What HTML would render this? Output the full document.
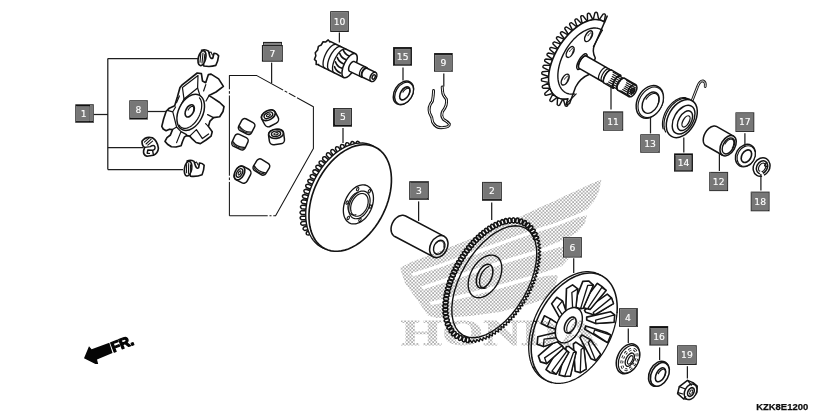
<!DOCTYPE html>
<html lang="en">
<head>
<meta charset="utf-8">
<title>KZK8E1200</title>
<style>
html,body{margin:0;padding:0;background:#fff;}
body{width:840px;height:420px;overflow:hidden;font-family:"Liberation Sans",Arial,sans-serif;}
svg{display:block;}
</style>
</head>
<body>
<svg width="840" height="420" viewBox="0 0 840 420">
<rect width="840" height="420" fill="#fff"/>
<g stroke="#141414" stroke-width="1.4" fill="none" stroke-linecap="round" stroke-linejoin="round">
<g id="clips"><g transform="translate(197.4 49.6) rotate(0) scale(1.0)"><path d="M4.2,0.6 Q8,-0.6 11.2,1.6 L12.4,6.6 Q13.6,9.8 15.4,8.4 L16.6,3.6 Q19.6,3.6 21.2,6.2 Q20.6,11.6 18.4,15.8 Q13,17.6 6.4,16.4 Z" fill="#fff" stroke-width="1.65"/><ellipse cx="4.6" cy="8.6" rx="3.7" ry="7.6" transform="rotate(14 4.6 8.6)" fill="#fff" stroke-width="1.65"/><path d="M3.4,4.2 L2.6,12.6 M5.6,3.4 L4.6,13.4 M7.4,4.8 L6.6,12.4" fill="none" stroke-width="1.10"/><path d="M11.4,3.2 L13.6,2.4 L15.0,5.4" fill="none" stroke-width="1.10"/></g><g transform="translate(140.8 136.6)"><path d="M1.2,4.6 Q4.8,-0.6 11.6,1.2 Q16.8,4.4 17.6,11.6 Q17.2,16.6 12.6,18.6 L6.2,19.6 Q2.2,18.4 2.8,14.2 L3.8,10.8 Q1.2,9.6 1.2,4.6 Z" fill="#fff" stroke-width="1.65"/><path d="M3.6,5.6 L8.2,1.6 M5.2,7.4 L10.4,2.6 M7.0,8.6 L11.8,4.6" fill="none" stroke-width="1.10"/><path d="M4.0,10.8 L9.4,10.0 Q13.2,7.6 14.2,10.4 Q14.6,13.4 11.8,13.6 L7.0,13.4 L6.4,16.6 L8.6,16.8 M11.8,13.6 L12.6,18.4" fill="none" stroke-width="1.43"/></g><g transform="translate(183.0 160.6) rotate(-4) scale(0.98)"><path d="M4.2,0.6 Q8,-0.6 11.2,1.6 L12.4,6.6 Q13.6,9.8 15.4,8.4 L16.6,3.6 Q19.6,3.6 21.2,6.2 Q20.6,11.6 18.4,15.8 Q13,17.6 6.4,16.4 Z" fill="#fff" stroke-width="1.65"/><ellipse cx="4.6" cy="8.6" rx="3.7" ry="7.6" transform="rotate(14 4.6 8.6)" fill="#fff" stroke-width="1.65"/><path d="M3.4,4.2 L2.6,12.6 M5.6,3.4 L4.6,13.4 M7.4,4.8 L6.6,12.4" fill="none" stroke-width="1.10"/><path d="M11.4,3.2 L13.6,2.4 L15.0,5.4" fill="none" stroke-width="1.10"/></g></g>
<g id="star"><path d="M197.2,73.0 L201.4,73.6 L202.5,81.1 L205.7,82.7 L208.4,74.6 L211.1,74.1 L218.6,78.9 L223.4,86.4 L216.0,92.0 L209.0,95.6 L212.0,97.4 L219.7,102.5 L224.0,106.6 L223.0,111.5 L219.7,116.8 L213.5,117.6 L210,121.1 L208.4,126.4 L212.2,131.8 L211.1,136.1 L206.0,140.0 L200.4,143.6 L196.1,142.5 L192.5,139.2 L189.7,136.1 L186.5,135.6 L184.3,137.2 L182.5,141.5 L181.1,145.7 L176.0,147.0 L171.4,146.8 L167.5,144.2 L165,141.4 L167.0,137.6 L170.4,135 L172.5,129.6 L169.5,129.2 L166.1,130.7 L163.2,129.0 L161.8,126.4 L163.6,119.0 L166.1,111.4 L169.3,108.2 L174.7,105.7 L177.5,96.5 L180,87.5 L182.2,84.8Z" fill="#fff" stroke-width="1.65"/><path d="M182.4,87.4 L198.0,75.4 L197.6,88.0 L184.0,99.0 Z" fill="none" stroke-width="1.21"/><path d="M197.6,88.0 L200.6,97.6 M184.0,99.0 L180.6,106.0 M176.6,102.6 L179.4,96.0" fill="none" stroke-width="1.21"/><path d="M168.2,110.6 L172.8,111.8 L176.6,127.0 L172.5,129.6 M172.8,111.8 L175.6,107.0 M176.6,127.0 L181.0,131.6 L176.6,142.6 M181.0,131.6 L186.6,134.6" fill="none" stroke-width="1.21"/><path d="M196.4,129.6 L202.4,138.6 L208.6,134.0 M196.4,129.6 L189.7,136.1 M205.6,123.6 L208.4,126.4" fill="none" stroke-width="1.21"/><path d="M207.6,114.6 Q211.6,116.6 213.5,117.6 M208.6,96.4 L206.0,101.0 M205.8,84.6 L203.6,91.0" fill="none" stroke-width="1.21"/><ellipse cx="190.70" cy="112.40" rx="19.20" ry="12.20" transform="rotate(-64.00 190.70 112.40)" fill="#fff" stroke-width="1.49"/><path d="M199.47,97.80 L200.33,99.07 L200.99,100.57 L201.44,102.27 L201.68,104.15 L201.70,106.17 L201.51,108.29 L201.09,110.48 L200.47,112.69 L199.66,114.89 L198.66,117.03 L197.50,119.08 L196.19,121.00 L194.77,122.76 L193.25,124.32 L191.67,125.66 L190.05,126.75 L188.42,127.57 L186.81,128.10 L185.26,128.35 L183.78,128.29 L182.41,127.94 L181.16,127.30 L180.07,126.39 L179.15,125.21" fill="none" stroke-width="1.21"/><ellipse cx="189.70" cy="110.90" rx="6.60" ry="3.90" transform="rotate(-62.00 189.70 110.90)" fill="#fff" stroke-width="1.65"/><path d="M188.10,110.08 L188.41,109.53 L188.75,109.01 L189.11,108.52 L189.49,108.07 L189.88,107.66 L190.27,107.30 L190.67,106.99 L191.06,106.75 L191.45,106.56 L191.82,106.44 L192.17,106.38 L192.50,106.39 L192.80,106.47 L193.06,106.61 L193.30,106.82 L193.49,107.08 L193.64,107.41 L193.74,107.78 L193.80,108.20 L193.82,108.67 L193.79,109.17 L193.71,109.70 L193.59,110.25 L193.42,110.82" fill="none" stroke-width="1.10"/></g>
<g id="rollers"><path d="M229.4,215.8 L229.4,75.4 L256.4,75.4 L313.4,106.8 L313.4,148.6 L275.6,215.8 L229.4,215.8" fill="none" stroke-width="1.04" stroke-linecap="butt"/><rect x="228.5" y="88.7" width="1.8" height="3" fill="#fff" stroke="none" transform="rotate(90 229.4 90.2)"/><rect x="228.5" y="93.1" width="1.8" height="3" fill="#fff" stroke="none" transform="rotate(90 229.4 94.6)"/><rect x="228.5" y="175.1" width="1.8" height="3" fill="#fff" stroke="none" transform="rotate(90 229.4 176.6)"/><rect x="228.5" y="179.5" width="1.8" height="3" fill="#fff" stroke="none" transform="rotate(90 229.4 181.0)"/><rect x="283.1" y="88.8" width="1.8" height="3" fill="#fff" stroke="none" transform="rotate(28.4 284.0 90.3)"/><rect x="287.3" y="91.1" width="1.8" height="3" fill="#fff" stroke="none" transform="rotate(28.4 288.2 92.6)"/><rect x="295.5" y="95.5" width="1.8" height="3" fill="#fff" stroke="none" transform="rotate(28.4 296.4 97.0)"/><rect x="267.70000000000005" y="214.3" width="1.8" height="3" fill="#fff" stroke="none" transform="rotate(0 268.6 215.8)"/><rect x="271.5" y="214.3" width="1.8" height="3" fill="#fff" stroke="none" transform="rotate(0 272.4 215.8)"/><g transform="translate(246.6 126.6) rotate(28) scale(1.0)"><rect x="-7.2" y="-6.6" width="14.4" height="13.2" rx="3.4" ry="3.4" fill="#fff" stroke-width="1.49"/><path d="M-6.6,2.8 Q0,6.4 6.6,2.8" fill="none" stroke-width="1.26"/><path d="M-6.0,4.2 Q0,7.4 6.0,4.2" fill="none" stroke-width="0.99"/></g><g transform="translate(240.0 142.0) rotate(25) scale(1.0)"><rect x="-7.2" y="-6.6" width="14.4" height="13.2" rx="3.4" ry="3.4" fill="#fff" stroke-width="1.49"/><path d="M-6.6,2.8 Q0,6.4 6.6,2.8" fill="none" stroke-width="1.26"/><path d="M-6.0,4.2 Q0,7.4 6.0,4.2" fill="none" stroke-width="0.99"/></g><g transform="translate(269.6 117.6) rotate(-28) scale(1.0)"><rect x="-7.6" y="-6.4" width="15.2" height="14.4" rx="4.2" ry="4.2" fill="#fff" stroke-width="1.49"/><ellipse cx="0" cy="-2.6" rx="7.4" ry="4.6" fill="#fff" stroke-width="1.65"/><ellipse cx="0" cy="-2.6" rx="4.6" ry="2.7" fill="#fff" stroke-width="1.43"/><ellipse cx="0" cy="-2.6" rx="2.2" ry="1.1" fill="#fff" stroke-width="1.10"/></g><g transform="translate(276.4 136.4) rotate(-8) scale(1.0)"><rect x="-7.6" y="-6.4" width="15.2" height="14.4" rx="4.2" ry="4.2" fill="#fff" stroke-width="1.49"/><ellipse cx="0" cy="-2.6" rx="7.4" ry="4.6" fill="#fff" stroke-width="1.65"/><ellipse cx="0" cy="-2.6" rx="4.6" ry="2.7" fill="#fff" stroke-width="1.43"/><ellipse cx="0" cy="-2.6" rx="2.2" ry="1.1" fill="#fff" stroke-width="1.10"/></g><g transform="translate(241.8 174.2) rotate(-62) scale(1.0)"><rect x="-7.6" y="-6.4" width="15.2" height="14.4" rx="4.2" ry="4.2" fill="#fff" stroke-width="1.49"/><ellipse cx="0" cy="-2.6" rx="7.4" ry="4.6" fill="#fff" stroke-width="1.65"/><ellipse cx="0" cy="-2.6" rx="4.6" ry="2.7" fill="#fff" stroke-width="1.43"/><ellipse cx="0" cy="-2.6" rx="2.2" ry="1.1" fill="#fff" stroke-width="1.10"/></g><g transform="translate(261.4 167.0) rotate(32) scale(1.0)"><rect x="-7.2" y="-6.6" width="14.4" height="13.2" rx="3.4" ry="3.4" fill="#fff" stroke-width="1.49"/><path d="M-6.6,2.8 Q0,6.4 6.6,2.8" fill="none" stroke-width="1.26"/><path d="M-6.0,4.2 Q0,7.4 6.0,4.2" fill="none" stroke-width="0.99"/></g></g>
<g id="p10"><path d="M330.67,41.68 L330.11,41.49 L329.50,41.43 L328.83,41.50 L328.12,41.71 L327.38,42.04 L326.61,42.50 L325.82,43.09 L325.01,43.78 L324.21,44.59 L323.42,45.49 L322.64,46.48 L321.88,47.54 L321.16,48.68 L320.48,49.86 L319.85,51.09 L319.27,52.34 L318.76,53.61 L318.31,54.88 L317.93,56.13 L317.63,57.35 L317.41,58.53 L317.27,59.66 L317.22,60.72 L317.24,61.70 L317.36,62.59 L317.55,63.38 L317.82,64.07 L318.18,64.64 L318.60,65.09 L319.10,65.41 L343.81,77.46 L355.39,53.74 Z" fill="#fff" stroke-width="1.54"/><ellipse cx="349.60" cy="65.60" rx="13.20" ry="5.60" transform="rotate(-64.00 349.60 65.60)" fill="#fff" stroke-width="1.54" /><path d="M318.72,64.58 L316.14,64.54 L316.26,61.12 L314.46,59.38 L315.87,55.84 L315.27,52.81 L317.64,50.01 L318.39,46.42 L321.14,45.03 L323.06,41.74 L325.54,42.09 L328.17,39.89 L329.79,41.89" fill="#fff" stroke-width="1.54"/><path d="M334.38,72.86 L333.77,72.44 L333.27,71.82 L332.89,71.02 L332.63,70.04 L332.51,68.92 L332.51,67.65 L332.65,66.27 L332.91,64.80 L333.30,63.27 L333.80,61.70 L334.42,60.11 L335.13,58.54 L335.93,57.01 L336.80,55.56 L337.73,54.19 L338.70,52.94 L339.69,51.83 L340.70,50.87 L341.69,50.09 L342.66,49.50 L343.58,49.10 L344.45,48.90 L345.24,48.91 L345.95,49.13" fill="none" stroke-width="1.32"/><path d="M329.43,70.45 L328.83,70.03 L328.33,69.41 L327.95,68.61 L327.69,67.63 L327.56,66.50 L327.57,65.24 L327.70,63.86 L327.97,62.39 L328.35,60.86 L328.86,59.29 L329.47,57.70 L330.19,56.13 L330.98,54.60 L331.86,53.14 L332.78,51.78 L333.75,50.53 L334.75,49.42 L335.75,48.46 L336.75,47.68 L337.71,47.08 L338.64,46.69 L339.51,46.49 L340.30,46.50 L341.01,46.72" fill="none" stroke-width="1.32"/><path d="M324.94,68.26 L324.33,67.84 L323.83,67.22 L323.45,66.42 L323.20,65.44 L323.07,64.31 L323.07,63.05 L323.21,61.67 L323.47,60.20 L323.86,58.67 L324.37,57.09 L324.98,55.51 L325.69,53.94 L326.49,52.41 L327.36,50.95 L328.29,49.59 L329.26,48.34 L330.25,47.22 L331.26,46.27 L332.25,45.49 L333.22,44.89 L334.15,44.49 L335.01,44.30 L335.81,44.31 L336.51,44.53" fill="none" stroke-width="1.32"/><path d="M343.18,49.78 Q344.52,53.89 349.05,55.99 M339.79,53.42 Q341.13,57.52 345.67,59.62 M337.31,57.50 Q338.65,61.60 343.19,63.70 M335.51,61.90 Q336.85,66.01 341.38,68.11 M334.53,66.72 Q335.87,70.82 340.41,72.92" fill="none" stroke-width="1.65"/><path d="M354.38,61.61 L354.12,61.51 L353.83,61.47 L353.52,61.48 L353.19,61.55 L352.85,61.67 L352.51,61.84 L352.15,62.06 L351.80,62.34 L351.45,62.65 L351.10,63.01 L350.76,63.41 L350.44,63.84 L350.14,64.30 L349.85,64.78 L349.59,65.28 L349.36,65.79 L349.15,66.31 L348.98,66.84 L348.84,67.36 L348.73,67.86 L348.66,68.36 L348.63,68.83 L348.63,69.28 L348.68,69.69 L348.75,70.07 L348.87,70.42 L349.02,70.71 L349.20,70.96 L349.41,71.17 L349.65,71.32 L362.23,77.45 L366.97,67.75 Z" fill="#fff" stroke-width="1.49"/><path d="M362.23,77.45 L361.94,77.26 L361.69,76.98 L361.48,76.63 L361.34,76.21 L361.24,75.73 L361.21,75.20 L361.23,74.62 L361.31,74.00 L361.45,73.36 L361.64,72.71 L361.89,72.06 L362.17,71.42 L362.50,70.79 L362.87,70.20 L363.26,69.65 L363.68,69.15 L364.12,68.71 L364.56,68.33 L365.00,68.03 L365.44,67.80 L365.86,67.66 L366.26,67.61 L366.63,67.63 L366.97,67.75" fill="none" stroke-width="1.21"/><path d="M360.43,76.55 L360.14,76.36 L359.89,76.08 L359.68,75.73 L359.54,75.31 L359.44,74.83 L359.41,74.30 L359.43,73.72 L359.51,73.10 L359.65,72.46 L359.84,71.81 L360.09,71.16 L360.37,70.52 L360.70,69.89 L361.07,69.30 L361.46,68.75 L361.88,68.25 L362.32,67.81 L362.76,67.43 L363.20,67.13 L363.64,66.90 L364.06,66.76 L364.46,66.71 L364.83,66.73 L365.17,66.85" fill="none" stroke-width="1.21"/><path d="M367.50,68.46 L367.21,68.35 L366.89,68.29 L366.56,68.27 L366.22,68.31 L365.86,68.41 L365.50,68.55 L365.14,68.74 L364.77,68.97 L364.42,69.25 L364.07,69.57 L363.74,69.93 L363.42,70.32 L363.13,70.73 L362.86,71.18 L362.61,71.64 L362.40,72.12 L362.22,72.60 L362.07,73.09 L361.96,73.58 L361.88,74.06 L361.84,74.53 L361.84,74.98 L361.88,75.41 L361.95,75.82 L362.06,76.19 L362.21,76.53 L362.39,76.82 L362.61,77.08 L362.85,77.29 L363.12,77.45 L371.21,81.39 L375.59,72.41 Z" fill="#fff" stroke-width="1.54"/><ellipse cx="373.40" cy="76.90" rx="5.00" ry="3.00" transform="rotate(-64.00 373.40 76.90)" fill="#fff" stroke-width="1.54" /><ellipse cx="373.70" cy="77.00" rx="2.30" ry="1.40" transform="rotate(-64.00 373.70 77.00)" fill="#fff" stroke-width="1.43"/></g>
<g id="p15_9"><ellipse cx="403.40" cy="92.90" rx="12.80" ry="9.00" transform="rotate(-58.00 403.40 92.90)" fill="#fff" stroke-width="1.43"/><ellipse cx="404.10" cy="93.30" rx="12.00" ry="8.30" transform="rotate(-58.00 404.10 93.30)" fill="#fff" stroke-width="1.32"/><ellipse cx="404.80" cy="93.40" rx="7.20" ry="4.10" transform="rotate(-58.00 404.80 93.40)" fill="#fff" stroke-width="1.59"/><path d="M402.89,92.10 L403.31,91.47 L403.77,90.87 L404.26,90.31 L404.77,89.81 L405.29,89.37 L405.82,89.00 L406.34,88.70 L406.85,88.48 L407.35,88.33 L407.81,88.28 L408.24,88.30 L408.64,88.41 L408.98,88.61 L409.28,88.88 L409.51,89.23 L409.69,89.64 L409.81,90.12 L409.86,90.66 L409.84,91.25 L409.77,91.87 L409.62,92.52 L409.42,93.19 L409.16,93.88 L408.84,94.56" fill="none" stroke-width="1.10"/><path d="M433.6,90.6 Q433.4,96.0 432.4,101.2 Q427.8,106.6 429.6,113.0 Q432.4,117.6 432.6,122.0 Q436.0,128.6 443.0,127.6 Q449.6,127.2 449.4,124.2 Q447.6,121.6 443.4,119.4 Q440.6,115.6 442.6,111.4 Q447.6,105.0 446.4,99.2 Q442.6,95.0 442.6,91.6 L442.2,87.0" fill="none" stroke="#141414" stroke-width="2.97" stroke-linejoin="round"/><path d="M433.6,90.6 Q433.4,96.0 432.4,101.2 Q427.8,106.6 429.6,113.0 Q432.4,117.6 432.6,122.0 Q436.0,128.6 443.0,127.6 Q449.6,127.2 449.4,124.2 Q447.6,121.6 443.4,119.4 Q440.6,115.6 442.6,111.4 Q447.6,105.0 446.4,99.2 Q442.6,95.0 442.6,91.6 L442.2,87.0" fill="none" stroke="#fff" stroke-width="0.94" stroke-linejoin="round"/></g>
<g id="p5"><path d="M309.35,234.67 L308.27,235.11 Q304.92,234.55 306.90,231.79 L307.98,231.34 Q310.49,232.25 309.35,234.67Z M307.47,229.82 L304.91,230.50 Q301.66,229.51 303.97,227.03 L306.53,226.34 Q308.91,227.56 307.47,229.82Z M306.20,224.72 L302.35,225.31 Q299.23,223.96 301.81,221.75 L305.66,221.16 Q307.89,222.64 306.20,224.72Z M305.50,219.56 L301.61,219.77 Q298.64,218.13 301.42,216.18 L305.31,215.97 Q307.38,217.66 305.50,219.56Z M305.30,214.38 L301.40,214.26 Q298.58,212.37 301.51,210.66 L305.41,210.79 Q307.33,212.65 305.30,214.38Z M305.53,209.16 L301.65,208.73 Q298.98,206.63 302.04,205.15 L305.92,205.58 Q307.69,207.58 305.53,209.16Z M306.15,204.00 L302.31,203.30 Q299.80,201.02 302.96,199.76 L306.79,200.46 Q308.42,202.58 306.15,204.00Z M307.13,198.91 L303.35,197.97 Q300.99,195.52 304.22,194.47 L308.01,195.42 Q309.49,197.65 307.13,198.91Z M308.45,193.88 L304.73,192.69 Q302.53,190.10 305.82,189.26 L309.54,190.45 Q310.88,192.77 308.45,193.88Z M310.07,188.94 L306.44,187.53 Q304.40,184.81 307.74,184.17 L311.37,185.58 Q312.57,187.98 310.07,188.94Z M311.98,184.13 L308.44,182.51 Q306.56,179.68 309.93,179.24 L313.48,180.86 Q314.53,183.32 311.98,184.13Z M314.18,179.44 L310.73,177.61 Q309.03,174.67 312.42,174.43 L315.87,176.26 Q316.77,178.77 314.18,179.44Z M316.68,174.83 L313.34,172.80 Q311.82,169.77 315.22,169.73 L318.55,171.76 Q319.30,174.32 316.68,174.83Z M319.42,170.41 L316.22,168.19 Q314.88,165.06 318.27,165.23 L321.48,167.46 Q322.07,170.06 319.42,170.41Z M322.43,166.16 L319.38,163.74 Q318.24,160.54 321.61,160.92 L324.67,163.34 Q325.10,165.98 322.43,166.16Z M325.69,162.13 L322.80,159.52 Q321.88,156.25 325.22,156.85 L328.11,159.47 Q328.37,162.13 325.69,162.13Z M329.22,158.32 L326.52,155.50 Q325.83,152.18 329.12,153.01 L331.82,155.83 Q331.89,158.51 329.22,158.32Z M333.00,154.78 L330.84,152.15 Q330.41,148.78 333.62,149.87 L335.78,152.50 Q335.65,155.17 333.00,154.78Z M337.10,151.51 L335.51,149.19 Q335.36,145.80 338.48,147.15 L340.07,149.47 Q339.70,152.12 337.10,151.51Z M341.39,148.65 L340.32,146.72 Q340.50,143.33 343.47,144.97 L344.54,146.90 Q343.92,149.51 341.39,148.65Z M346.03,146.17 L345.43,144.74 Q345.99,141.39 348.76,143.35 L349.36,144.79 Q348.45,147.31 346.03,146.17Z M350.88,144.26 L350.65,143.41 Q351.63,140.16 354.12,142.46 L354.35,143.31 Q353.14,145.69 350.88,144.26Z M355.97,142.99 L355.95,142.83 Q357.42,139.76 359.53,142.42 L359.55,142.58 Q357.99,144.75 355.97,142.99Z" stroke-width="1.49" fill="#fff"/><path d="M329.44,249.82 L326.30,249.17 L323.32,248.14 L320.50,246.72 L317.89,244.94 L315.49,242.81 L313.32,240.34 L311.40,237.55 L309.74,234.45 L308.35,231.09 L307.25,227.46 L306.44,223.62 L305.93,219.57 L305.73,215.36 L305.82,211.01 L306.22,206.55 L306.92,202.02 L307.91,197.45 L309.19,192.87 L310.75,188.32 L312.57,183.83 L314.65,179.43 L316.97,175.16 L319.51,171.05 L322.25,167.12 L325.17,163.40 L328.25,159.93 L331.48,156.72 L334.82,153.81 L338.25,151.21 L341.74,148.94 L345.28,147.02 L348.83,145.46 L352.36,144.27 L355.86,143.46 L359.30,143.05 L362.65,143.02 L365.89,143.39 L368.99,144.14 L371.93,145.28 L374.69,146.79" fill="#fff" stroke-width="1.32"/><path d="M375.32,147.17 L378.08,148.77 L380.62,150.75 L382.94,153.09 L385.00,155.77 L386.80,158.77 L388.32,162.07 L389.55,165.64 L390.48,169.46 L391.10,173.49 L391.41,177.72 L391.41,182.09 L391.10,186.59 L390.47,191.17 L389.54,195.81 L388.31,200.47 L386.79,205.10 L384.99,209.68 L382.92,214.17 L380.61,218.54 L378.06,222.75 L375.30,226.78 L372.36,230.58 L369.24,234.14 L365.98,237.42 L362.59,240.40 L359.12,243.06 L355.57,245.38 L351.99,247.33 L348.39,248.91 L344.80,250.11 L341.26,250.90 L337.78,251.30 L334.40,251.28 L331.14,250.87 L328.03,250.05 L325.08,248.83 L322.32,247.23 L319.78,245.25 L317.46,242.91 L315.40,240.23 L313.60,237.23 L312.08,233.93 L310.85,230.36 L309.92,226.54 L309.30,222.51 L308.99,218.28 L308.99,213.91 L309.30,209.41 L309.93,204.83 L310.86,200.19 L312.09,195.53 L313.61,190.90 L315.41,186.32 L317.48,181.83 L319.79,177.46 L322.34,173.25 L325.10,169.22 L328.04,165.42 L331.16,161.86 L334.42,158.58 L337.81,155.60 L341.28,152.94 L344.83,150.62 L348.41,148.67 L352.01,147.09 L355.60,145.89 L359.14,145.10 L362.62,144.70 L366.00,144.72 L369.26,145.13 L372.37,145.95 L375.32,147.17Z" fill="#fff" stroke-width="1.65"/><path d="M367.01,185.68 L368.05,186.25 L369.02,186.96 L369.91,187.79 L370.71,188.76 L371.42,189.84 L372.03,191.03 L372.54,192.33 L372.94,193.72 L373.22,195.18 L373.40,196.72 L373.46,198.32 L373.40,199.96 L373.24,201.64 L372.95,203.34 L372.56,205.05 L372.06,206.75 L371.46,208.43 L370.76,210.08 L369.96,211.69 L369.07,213.25 L368.11,214.73 L367.07,216.14 L365.96,217.46 L364.80,218.68 L363.58,219.79 L362.33,220.78 L361.05,221.65 L359.75,222.39 L358.44,222.99 L357.12,223.45 L355.82,223.76 L354.54,223.93 L353.28,223.95 L352.07,223.82 L350.90,223.54 L349.79,223.12 L348.75,222.55 L347.78,221.84 L346.89,221.01 L346.09,220.04 L345.38,218.96 L344.77,217.77 L344.26,216.47 L343.86,215.08 L343.58,213.62 L343.40,212.08 L343.34,210.48 L343.40,208.84 L343.56,207.16 L343.85,205.46 L344.24,203.75 L344.74,202.05 L345.34,200.37 L346.04,198.72 L346.84,197.11 L347.73,195.55 L348.69,194.07 L349.73,192.66 L350.84,191.34 L352.00,190.12 L353.22,189.01 L354.47,188.02 L355.75,187.15 L357.05,186.41 L358.36,185.81 L359.68,185.35 L360.98,185.04 L362.26,184.87 L363.52,184.85 L364.73,184.98 L365.90,185.26 L367.01,185.68Z" fill="#fff" stroke-width="1.32"/><path d="M365.52,191.61 L366.26,192.01 L366.95,192.51 L367.58,193.10 L368.15,193.78 L368.65,194.55 L369.09,195.40 L369.44,196.32 L369.73,197.30 L369.93,198.34 L370.05,199.43 L370.10,200.56 L370.06,201.73 L369.94,202.92 L369.74,204.12 L369.46,205.33 L369.11,206.53 L368.68,207.73 L368.18,208.90 L367.62,210.04 L366.99,211.14 L366.30,212.19 L365.57,213.19 L364.78,214.13 L363.96,214.99 L363.10,215.78 L362.21,216.48 L361.30,217.10 L360.38,217.62 L359.45,218.05 L358.52,218.37 L357.60,218.59 L356.69,218.71 L355.80,218.73 L354.94,218.63 L354.11,218.44 L353.32,218.14 L352.58,217.73 L351.89,217.23 L351.26,216.64 L350.70,215.96 L350.19,215.19 L349.76,214.34 L349.40,213.43 L349.12,212.44 L348.92,211.40 L348.79,210.31 L348.75,209.18 L348.79,208.01 L348.91,206.83 L349.11,205.62 L349.39,204.41 L349.74,203.21 L350.17,202.01 L350.67,200.84 L351.23,199.70 L351.86,198.60 L352.54,197.55 L353.28,196.55 L354.07,195.61 L354.89,194.75 L355.75,193.96 L356.64,193.26 L357.55,192.64 L358.47,192.12 L359.40,191.70 L360.33,191.37 L361.25,191.15 L362.16,191.03 L363.05,191.02 L363.91,191.11 L364.74,191.31 L365.52,191.61Z" fill="none" stroke-width="1.21"/><path d="M364.44,193.97 L365.05,194.30 L365.61,194.71 L366.13,195.20 L366.60,195.76 L367.01,196.39 L367.36,197.08 L367.66,197.84 L367.89,198.65 L368.06,199.50 L368.16,200.40 L368.20,201.33 L368.16,202.29 L368.07,203.26 L367.90,204.25 L367.67,205.25 L367.38,206.24 L367.03,207.22 L366.62,208.18 L366.16,209.12 L365.64,210.02 L365.08,210.89 L364.47,211.71 L363.83,212.48 L363.15,213.19 L362.44,213.84 L361.71,214.41 L360.97,214.92 L360.21,215.35 L359.44,215.70 L358.68,215.97 L357.92,216.15 L357.17,216.25 L356.44,216.26 L355.74,216.18 L355.06,216.02 L354.41,215.77 L353.80,215.44 L353.24,215.03 L352.72,214.54 L352.25,213.98 L351.84,213.35 L351.48,212.66 L351.19,211.90 L350.96,211.09 L350.79,210.24 L350.69,209.34 L350.65,208.41 L350.68,207.45 L350.78,206.48 L350.95,205.49 L351.17,204.49 L351.46,203.50 L351.82,202.52 L352.23,201.56 L352.69,200.62 L353.21,199.72 L353.77,198.85 L354.38,198.03 L355.02,197.26 L355.70,196.55 L356.40,195.91 L357.13,195.33 L357.88,194.82 L358.64,194.39 L359.40,194.04 L360.17,193.77 L360.93,193.59 L361.67,193.49 L362.40,193.48 L363.11,193.56 L363.79,193.72 L364.44,193.97Z" fill="none" stroke-width="1.21"/><path d="M355.95,214.71 L355.57,214.81 L355.19,214.90 L354.82,214.95 L354.44,214.99 L354.08,215.01 L353.71,215.00 L353.36,214.98 L353.01,214.93 L352.66,214.86 L352.33,214.76 L352.00,214.65 L351.68,214.52 L351.37,214.36 L351.07,214.19 L350.78,213.99 L350.51,213.78 L350.24,213.54 L349.99,213.29 L349.75,213.02 L349.52,212.73 L349.31,212.42 L349.11,212.10 L348.92,211.76 L348.75,211.40 L348.60,211.03 L348.46,210.65 L348.33,210.25 L348.23,209.84 L348.13,209.42 L348.06,208.98 L348.00,208.54 L347.96,208.09 L347.93,207.63 L347.92,207.16 L347.93,206.68 L347.95,206.20 L347.99,205.71 L348.05,205.22 L348.13,204.73 L348.22,204.23 L348.32,203.74 L348.44,203.24 L348.58,202.74 L348.74,202.25 L348.90,201.76 L349.09,201.27 L349.28,200.78 L349.50,200.30 L349.72,199.83 L349.96,199.37 L350.21,198.91 L350.48,198.46 L350.75,198.02 L351.04,197.60 L351.34,197.18 L351.65,196.78 L351.96,196.38 L352.29,196.01 L352.63,195.64 L352.97,195.30 L353.32,194.97 L353.67,194.65 L354.04,194.35 L354.40,194.07 L354.78,193.81 L355.15,193.57 L355.53,193.34 L355.91,193.14 L356.29,192.95 L356.67,192.79 L357.06,192.64 L357.44,192.52" fill="none" stroke-width="1.10"/><ellipse cx="369.33" cy="191.22" rx="1.8" ry="1.0" transform="rotate(-65 369.33 191.22)" stroke-width="1.10"/><ellipse cx="370.48" cy="206.59" rx="1.8" ry="1.0" transform="rotate(-65 370.48 206.59)" stroke-width="1.10"/><ellipse cx="359.96" cy="219.96" rx="1.8" ry="1.0" transform="rotate(-65 359.96 219.96)" stroke-width="1.10"/><ellipse cx="348.29" cy="217.95" rx="1.8" ry="1.0" transform="rotate(-65 348.29 217.95)" stroke-width="1.10"/><ellipse cx="347.14" cy="202.58" rx="1.8" ry="1.0" transform="rotate(-65 347.14 202.58)" stroke-width="1.10"/><ellipse cx="357.66" cy="189.22" rx="1.8" ry="1.0" transform="rotate(-65 357.66 189.22)" stroke-width="1.10"/></g>
<g id="p3"><path d="M405.64,216.00 L404.84,215.65 L403.98,215.41 L403.08,215.30 L402.15,215.30 L401.20,215.42 L400.24,215.66 L399.28,216.02 L398.33,216.49 L397.40,217.06 L396.50,217.74 L395.64,218.51 L394.84,219.37 L394.09,220.30 L393.41,221.30 L392.80,222.35 L392.28,223.44 L391.84,224.57 L391.49,225.71 L391.24,226.86 L391.09,228.00 L391.04,229.13 L391.09,230.22 L391.24,231.27 L391.49,232.26 L391.83,233.19 L392.27,234.05 L392.79,234.81 L393.40,235.49 L394.08,236.06 L394.82,236.53 L433.39,256.86 L444.21,236.34 Z" fill="#fff" stroke-width="1.54"/><ellipse cx="438.80" cy="246.60" rx="11.60" ry="8.40" transform="rotate(-62.20 438.80 246.60)" fill="#fff" stroke-width="1.54" /><ellipse cx="439.20" cy="247.20" rx="7.40" ry="5.20" transform="rotate(-62.20 439.20 247.20)" fill="#fff" stroke-width="1.43"/><path d="M436.30,243.27 L436.74,242.81 L437.20,242.39 L437.69,242.02 L438.18,241.70 L438.68,241.44 L439.19,241.24 L439.69,241.10 L440.18,241.03 L440.67,241.01 L441.13,241.07 L441.57,241.18 L441.98,241.36 L442.36,241.60 L442.70,241.90 L443.01,242.25 L443.27,242.65 L443.48,243.10 L443.65,243.59 L443.77,244.12 L443.84,244.69 L443.86,245.27 L443.83,245.88 L443.74,246.50 L443.61,247.13" fill="none" stroke-width="0.99"/></g>
<g id="p2"><path d="M469.26,338.33 L468.95,341.54 Q467.29,343.71 466.06,341.27 L466.37,338.06 Q467.97,336.61 469.26,338.33Z M465.74,337.95 L464.94,341.07 Q462.95,342.96 462.13,340.35 L462.94,337.23 Q464.74,336.04 465.74,337.95Z M462.30,337.00 L460.96,339.94 Q458.68,341.45 458.32,338.73 L459.66,335.80 Q461.64,334.95 462.30,337.00Z M459.04,335.45 L457.19,338.09 Q454.67,339.16 454.82,336.43 L456.67,333.78 Q458.77,333.31 459.04,335.45Z M456.16,333.35 L453.87,335.63 Q451.21,336.24 451.83,333.57 L454.11,331.30 Q456.26,331.20 456.16,333.35Z M453.67,330.77 L451.05,332.64 Q448.32,332.82 449.36,330.29 L451.98,328.41 Q454.12,328.66 453.67,330.77Z M451.63,327.82 L448.77,329.31 Q446.04,329.09 447.43,326.73 L450.29,325.25 Q452.38,325.80 451.63,327.82Z M450.05,324.68 L447.03,325.81 Q444.35,325.27 446.01,323.10 L449.03,321.97 Q451.03,322.77 450.05,324.68Z M448.85,321.37 L445.73,322.18 Q443.12,321.36 445.00,319.37 L448.12,318.56 Q450.03,319.56 448.85,321.37Z M447.99,317.95 L444.81,318.48 Q442.28,317.43 444.33,315.62 L447.51,315.09 Q449.33,316.26 447.99,317.95Z M447.44,314.49 L444.23,314.78 Q441.79,313.54 443.97,311.89 L447.18,311.60 Q448.90,312.91 447.44,314.49Z M447.16,311.04 L443.93,311.11 Q441.58,309.71 443.87,308.21 L447.09,308.14 Q448.72,309.55 447.16,311.04Z M447.10,307.54 L443.87,307.42 Q441.61,305.88 443.98,304.52 L447.21,304.64 Q448.75,306.15 447.10,307.54Z M447.25,304.02 L444.04,303.73 Q441.86,302.07 444.30,300.84 L447.51,301.14 Q448.97,302.73 447.25,304.02Z M447.59,300.52 L444.39,300.06 Q442.30,298.30 444.80,297.19 L447.99,297.64 Q449.37,299.30 447.59,300.52Z M448.07,297.14 L444.90,296.56 Q442.89,294.71 445.43,293.70 L448.61,294.29 Q449.91,296.01 448.07,297.14Z M448.73,293.72 L445.58,293.00 Q443.64,291.06 446.23,290.17 L449.37,290.89 Q450.60,292.66 448.73,293.72Z M449.51,290.35 L446.39,289.51 Q444.53,287.51 447.15,286.71 L450.26,287.55 Q451.42,289.37 449.51,290.35Z M450.43,286.96 L447.35,286.01 Q445.57,283.94 448.21,283.24 L451.29,284.19 Q452.39,286.05 450.43,286.96Z M451.47,283.66 L448.42,282.60 Q446.71,280.47 449.37,279.86 L452.42,280.92 Q453.45,282.82 451.47,283.66Z M452.63,280.36 L449.62,279.20 Q447.98,277.01 450.66,276.49 L453.67,277.65 Q454.64,279.58 452.63,280.36Z M453.87,277.17 L450.90,275.91 Q449.32,273.67 452.02,273.24 L455.00,274.50 Q455.90,276.45 453.87,277.17Z M455.27,273.88 L452.34,272.53 Q450.84,270.24 453.55,269.89 L456.48,271.24 Q457.32,273.23 455.27,273.88Z M456.73,270.72 L453.85,269.28 Q452.42,266.95 455.14,266.69 L458.03,268.13 Q458.81,270.14 456.73,270.72Z M458.24,267.71 L455.40,266.19 Q454.04,263.81 456.77,263.63 L459.61,265.15 Q460.33,267.18 458.24,267.71Z M459.90,264.62 L457.11,263.02 Q455.82,260.60 458.55,260.50 L461.35,262.11 Q462.01,264.16 459.90,264.62Z M461.66,261.59 L458.91,259.90 Q457.70,257.45 460.43,257.43 L463.18,259.12 Q463.78,261.19 461.66,261.59Z M463.43,258.71 L460.74,256.94 Q459.59,254.46 462.33,254.52 L465.02,256.29 Q465.56,258.38 463.43,258.71Z M465.36,255.80 L462.71,253.95 Q461.65,251.43 464.38,251.57 L467.02,253.42 Q467.49,255.53 465.36,255.80Z M467.35,252.96 L464.77,251.03 Q463.78,248.48 466.51,248.71 L469.09,250.64 Q469.50,252.75 467.35,252.96Z M469.50,250.11 L466.98,248.09 Q466.07,245.51 468.79,245.83 L471.31,247.84 Q471.65,249.97 469.50,250.11Z M471.63,247.44 L469.18,245.35 Q468.35,242.75 471.06,243.15 L473.51,245.24 Q473.79,247.38 471.63,247.44Z M473.90,244.79 L471.52,242.62 Q470.78,239.99 473.47,240.48 L475.86,242.65 Q476.06,244.80 473.90,244.79Z M476.23,242.25 L473.92,240.00 Q473.28,237.34 475.95,237.93 L478.26,240.18 Q478.38,242.33 476.23,242.25Z M478.68,239.76 L476.46,237.42 Q475.92,234.74 478.56,235.42 L480.79,237.76 Q480.83,239.92 478.68,239.76Z M481.18,237.40 L479.05,234.98 Q478.61,232.28 481.23,233.06 L483.36,235.49 Q483.32,237.64 481.18,237.40Z M483.79,235.12 L481.77,232.61 Q481.44,229.89 484.02,230.79 L486.05,233.30 Q485.92,235.45 483.79,235.12Z M486.52,232.93 L484.61,230.34 Q484.40,227.61 486.94,228.62 L488.85,231.22 Q488.63,233.36 486.52,232.93Z M489.34,230.87 L487.56,228.18 Q487.49,225.45 489.98,226.58 L491.76,229.27 Q491.43,231.40 489.34,230.87Z M492.26,228.96 L490.63,226.18 Q490.71,223.44 493.14,224.71 L494.77,227.50 Q494.32,229.61 492.26,228.96Z M495.26,227.23 L493.81,224.35 Q494.05,221.62 496.39,223.04 L497.85,225.92 Q497.28,227.99 495.26,227.23Z M498.41,225.65 L497.16,222.68 Q497.60,219.98 499.83,221.56 L501.09,224.53 Q500.37,226.56 498.41,225.65Z M501.70,224.30 L500.69,221.23 Q501.34,218.57 503.44,220.33 L504.45,223.39 Q503.57,225.36 501.70,224.30Z M505.01,223.23 L504.29,220.09 Q505.18,217.50 507.11,219.44 L507.83,222.58 Q506.78,224.46 505.01,223.23Z M508.41,222.47 L508.02,219.27 Q509.18,216.80 510.90,218.93 L511.29,222.13 Q510.04,223.88 508.41,222.47Z M511.94,222.09 L511.96,218.86 Q513.42,216.55 514.86,218.88 L514.84,222.10 Q513.38,223.69 511.94,222.09Z M515.56,222.16 L516.06,218.97 Q517.85,216.91 518.92,219.42 L518.42,222.61 Q516.74,223.96 515.56,222.16Z M519.06,222.76 L520.08,219.70 Q522.19,217.96 522.83,220.62 L521.81,223.68 Q519.93,224.73 519.06,222.76Z M522.41,223.94 L523.96,221.11 Q526.34,219.76 526.50,222.49 L524.96,225.33 Q522.92,226.03 522.41,223.94Z M525.55,225.72 L527.58,223.22 Q530.17,222.33 529.83,225.05 L527.80,227.55 Q525.67,227.88 525.55,225.72Z M528.30,228.04 L530.73,225.92 Q533.44,225.50 532.64,228.11 L530.20,230.23 Q528.05,230.18 528.30,228.04Z M530.55,230.71 L533.28,228.98 Q536.01,228.96 534.83,231.43 L532.11,233.16 Q529.98,232.79 530.55,230.71Z M532.42,233.75 L535.35,232.40 Q538.07,232.75 536.56,235.04 L533.63,236.38 Q531.58,235.73 532.42,233.75Z M533.88,237.02 L536.94,236.03 Q539.60,236.69 537.84,238.78 L534.77,239.78 Q532.81,238.90 533.88,237.02Z" stroke-width="1.59" fill="none"/><path d="M538.71,237.42 L536.68,239.80 L539.62,240.93 L537.41,243.15 L540.24,244.47 L537.87,246.54 L540.61,248.06 L538.11,249.98 L540.75,251.66 L538.15,253.43 L540.69,255.26 L537.99,256.87 L540.43,258.88 L537.66,260.35 L540.01,262.44 L537.17,263.83 L539.43,265.99 L536.54,267.23 L538.70,269.52 L535.75,270.67 L537.84,273.01 L534.84,274.08 L536.83,276.52 L533.81,277.44 L535.70,279.97 L532.67,280.73 L534.47,283.34 L531.41,284.02 L533.11,286.71 L530.02,287.30 L531.67,289.98 L528.56,290.48 L530.11,293.23 L526.99,293.64 L528.45,296.43 L525.31,296.76 L526.69,299.60 L523.54,299.83 L524.83,302.71 L521.68,302.84 L522.88,305.75 L519.73,305.78 L520.84,308.73 L517.70,308.66 L518.73,311.63 L515.59,311.44 L516.48,314.50 L513.36,314.20 L514.17,317.27 L511.07,316.86 L511.79,319.94 L508.67,319.46 L509.29,322.54 L506.21,321.94 L506.69,325.07 L503.66,324.33 L504.04,327.46 L501.01,326.62 L501.23,329.79 L498.27,328.80 L498.39,331.95 L495.40,330.88 L495.42,334.01 L492.52,332.77 L492.37,335.90 L489.53,334.52 L489.20,337.63 L486.45,336.09 L485.92,339.18 L483.29,337.46 L482.56,340.50 L480.12,338.58 L479.13,341.57 L476.82,339.46 L475.65,342.34 L473.52,340.02 L472.05,342.78 L470.21,340.25 L468.47,342.83" fill="none" stroke-width="1.38"/><path d="M525.75,228.30 L529.84,231.60 L533.05,236.12 L535.31,241.77 L536.56,248.41 L536.76,255.86 L535.92,263.95 L534.06,272.48 L531.21,281.24 L527.46,290.01 L522.89,298.57 L517.62,306.72 L511.77,314.26 L505.49,320.99 L498.93,326.75 L492.26,331.41 L485.64,334.85 L479.23,336.97 L473.20,337.74 L467.68,337.12 L462.82,335.14 L458.73,331.85 L455.52,327.32 L453.26,321.67 L452.01,315.04 L451.81,307.58 L452.65,299.49 L454.51,290.96 L457.35,282.21 L461.11,273.44 L465.68,264.87 L470.95,256.72 L476.80,249.19 L483.08,242.46 L489.64,236.69 L496.31,232.03 L502.93,228.60 L509.34,226.47 L515.37,225.71 L520.89,226.32 L525.75,228.30" fill="none" stroke-width="1.38"/><path d="M496.15,256.28 L497.21,256.97 L498.17,257.80 L499.03,258.78 L499.79,259.88 L500.43,261.12 L500.95,262.47 L501.36,263.93 L501.64,265.48 L501.79,267.11 L501.82,268.82 L501.71,270.58 L501.48,272.39 L501.13,274.23 L500.65,276.08 L500.05,277.94 L499.34,279.78 L498.52,281.60 L497.59,283.38 L496.57,285.11 L495.47,286.77 L494.28,288.35 L493.02,289.84 L491.70,291.23 L490.33,292.50 L488.92,293.66 L487.48,294.68 L486.02,295.56 L484.55,296.30 L483.09,296.88 L481.64,297.31 L480.22,297.58 L478.83,297.69 L477.49,297.64 L476.21,297.42 L474.99,297.05 L473.85,296.52 L472.79,295.83 L471.83,295.00 L470.97,294.02 L470.21,292.92 L469.57,291.68 L469.05,290.33 L468.64,288.87 L468.36,287.32 L468.21,285.69 L468.18,283.98 L468.29,282.22 L468.52,280.41 L468.87,278.57 L469.35,276.72 L469.95,274.86 L470.66,273.02 L471.48,271.20 L472.41,269.42 L473.43,267.69 L474.53,266.03 L475.72,264.45 L476.98,262.96 L478.30,261.57 L479.67,260.30 L481.08,259.14 L482.52,258.12 L483.98,257.24 L485.45,256.50 L486.91,255.92 L488.36,255.49 L489.78,255.22 L491.17,255.11 L492.51,255.16 L493.79,255.38 L495.01,255.75 L496.15,256.28Z" fill="none" stroke-width="1.38"/><path d="M489.72,264.69 L490.27,264.99 L490.78,265.37 L491.23,265.83 L491.64,266.37 L491.99,266.99 L492.29,267.68 L492.53,268.43 L492.70,269.24 L492.82,270.11 L492.87,271.02 L492.86,271.97 L492.79,272.95 L492.66,273.96 L492.46,274.98 L492.20,276.02 L491.89,277.05 L491.52,278.08 L491.10,279.09 L490.63,280.09 L490.11,281.05 L489.55,281.97 L488.95,282.86 L488.32,283.69 L487.66,284.46 L486.98,285.17 L486.28,285.82 L485.57,286.38 L484.85,286.88 L484.13,287.29 L483.41,287.62 L482.70,287.85 L482.01,288.01 L481.33,288.07 L480.68,288.04 L480.06,287.92 L479.48,287.71 L478.93,287.41 L478.42,287.03 L477.97,286.57 L477.56,286.03 L477.21,285.41 L476.91,284.72 L476.67,283.97 L476.50,283.16 L476.38,282.29 L476.33,281.38 L476.34,280.43 L476.41,279.45 L476.54,278.44 L476.74,277.42 L477.00,276.38 L477.31,275.35 L477.68,274.32 L478.10,273.31 L478.57,272.31 L479.09,271.35 L479.65,270.43 L480.25,269.54 L480.88,268.71 L481.54,267.94 L482.22,267.23 L482.92,266.58 L483.63,266.02 L484.35,265.52 L485.07,265.11 L485.79,264.78 L486.50,264.55 L487.19,264.39 L487.87,264.33 L488.52,264.36 L489.14,264.48 L489.72,264.69Z" fill="none" stroke-width="1.59"/><path d="M486.07,287.85 L485.73,287.97 L485.40,288.08 L485.07,288.16 L484.74,288.22 L484.42,288.25 L484.10,288.27 L483.79,288.26 L483.49,288.23 L483.20,288.18 L482.91,288.11 L482.63,288.01 L482.36,287.90 L482.10,287.76 L481.85,287.60 L481.61,287.43 L481.38,287.23 L481.16,287.01 L480.96,286.77 L480.77,286.51 L480.59,286.24 L480.42,285.94 L480.27,285.63 L480.13,285.31 L480.01,284.96 L479.90,284.60 L479.80,284.23 L479.72,283.84 L479.66,283.44 L479.61,283.03 L479.57,282.61 L479.55,282.17 L479.55,281.73 L479.56,281.28 L479.58,280.81 L479.62,280.35 L479.68,279.87 L479.75,279.39 L479.84,278.91 L479.94,278.42 L480.05,277.94 L480.18,277.45 L480.33,276.96 L480.48,276.47 L480.65,275.98 L480.84,275.49 L481.04,275.01 L481.24,274.54 L481.47,274.07 L481.70,273.60 L481.94,273.15 L482.20,272.70 L482.46,272.26 L482.73,271.83 L483.02,271.41 L483.31,271.01 L483.60,270.61 L483.91,270.24 L484.22,269.87 L484.54,269.52 L484.86,269.19 L485.19,268.87 L485.52,268.57 L485.86,268.28 L486.20,268.02 L486.54,267.77 L486.88,267.55 L487.22,267.34 L487.56,267.15 L487.90,266.99 L488.24,266.84 L488.58,266.71 L488.91,266.61" fill="none" stroke-width="1.32"/></g>
<g id="p6"><path d="M553.60,381.98 L551.70,381.75 L549.85,381.40 L548.06,380.90 L546.32,380.28 L544.64,379.53 L543.03,378.65 L541.49,377.65 L540.02,376.52 L538.63,375.27 L537.31,373.91 L536.09,372.43 L534.94,370.84 L533.89,369.15 L532.93,367.35 L532.06,365.46 L531.29,363.47 L530.62,361.39 L530.04,359.23 L529.57,356.99 L529.20,354.68 L528.93,352.30 L528.77,349.86 L528.70,347.37 L528.75,344.82 L528.90,342.23 L529.15,339.61 L529.50,336.95 L529.96,334.27 L530.52,331.57 L531.17,328.86 L531.93,326.15 L532.78,323.43 L533.73,320.73 L534.77,318.04 L535.89,315.37 L537.11,312.73 L538.41,310.12 L539.79,307.56 L541.24,305.04 L542.77,302.57 L544.37,300.17 L546.04,297.82 L547.77,295.55 L549.55,293.36 L551.39,291.24 L553.28,289.21 L555.22,287.28 L557.19,285.43 L559.20,283.69 L561.24,282.06 L563.31,280.53 L565.39,279.11 L567.49,277.81 L569.60,276.63 L571.72,275.57 L573.84,274.64 L575.95,273.83 L578.05,273.15 L580.14,272.60 L582.20,272.18 L584.24,271.90 L586.25,271.74 L588.22,271.72 L590.16,271.84 L592.05,272.09 L593.89,272.47 L595.68,272.98 L597.41,273.62 L599.07,274.39 L600.67,275.29 L602.20,276.31 L603.66,277.46" fill="#fff" stroke-width="1.26"/><path d="M601.81,275.83 L604.58,277.55 L607.12,279.65 L609.41,282.12 L611.43,284.94 L613.17,288.09 L614.61,291.55 L615.74,295.28 L616.56,299.27 L617.05,303.47 L617.22,307.87 L617.06,312.41 L616.58,317.08 L615.77,321.83 L614.65,326.64 L613.22,331.45 L611.49,336.24 L609.48,340.97 L607.19,345.60 L604.66,350.09 L601.90,354.43 L598.92,358.56 L595.76,362.46 L592.43,366.10 L588.97,369.45 L585.39,372.49 L581.73,375.19 L578.01,377.53 L574.26,379.50 L570.51,381.07 L566.79,382.25 L563.12,383.01 L559.54,383.36 L556.07,383.29 L552.74,382.79 L549.57,381.88 L546.59,380.57 L543.82,378.85 L541.28,376.75 L538.99,374.28 L536.97,371.46 L535.23,368.31 L533.79,364.85 L532.66,361.12 L531.84,357.13 L531.35,352.93 L531.18,348.53 L531.34,343.99 L531.82,339.32 L532.63,334.57 L533.75,329.76 L535.18,324.95 L536.91,320.16 L538.92,315.43 L541.21,310.80 L543.74,306.31 L546.50,301.97 L549.48,297.84 L552.64,293.94 L555.97,290.30 L559.43,286.95 L563.01,283.91 L566.67,281.21 L570.39,278.87 L574.14,276.90 L577.89,275.33 L581.61,274.15 L585.28,273.39 L588.86,273.04 L592.33,273.11 L595.66,273.61 L598.83,274.52 L601.81,275.83Z" fill="#fff" stroke="none"/><path d="M551.45,382.48 L549.34,381.80 L547.32,380.93 L545.39,379.89 L543.55,378.66 L541.83,377.26 L540.22,375.68 L538.72,373.95 L537.35,372.05 L536.11,370.00 L535.00,367.81 L534.02,365.48 L533.19,363.02 L532.49,360.44 L531.94,357.75 L531.54,354.95 L531.29,352.06 L531.18,349.09 L531.22,346.05 L531.42,342.95 L531.76,339.79 L532.25,336.59 L532.88,333.37 L533.66,330.12 L534.57,326.87 L535.63,323.63 L536.82,320.40 L538.14,317.20 L539.58,314.03 L541.14,310.92 L542.82,307.86 L544.61,304.88 L546.50,301.97 L548.49,299.16 L550.56,296.45 L552.72,293.85 L554.95,291.37 L557.25,289.01 L559.61,286.79 L562.02,284.72 L564.47,282.79 L566.95,281.02 L569.46,279.42 L571.98,277.99 L574.52,276.73 L577.05,275.65 L579.57,274.75 L582.08,274.03 L584.55,273.51 L586.99,273.17 L589.39,273.03 L591.73,273.07 L594.01,273.31 L596.23,273.74 L598.37,274.35 L600.42,275.16 L602.38,276.14 L604.25,277.31 L606.01,278.66 L607.66,280.17 L609.19,281.86 L610.60,283.70 L611.89,285.70 L613.05,287.84 L614.07,290.13 L614.95,292.55 L615.69,295.09 L616.29,297.74 L616.74,300.51 L617.05,303.36 L617.20,306.31 L617.21,309.33 L617.06,312.41" fill="none" stroke-width="1.54"/><path d="M617.06,312.41 L616.94,313.92 L616.79,315.44 L616.60,316.96 L616.37,318.50 L616.11,320.04 L615.82,321.60 L615.49,323.15 L615.14,324.71 L614.74,326.28 L614.32,327.84 L613.86,329.41 L613.37,330.97 L612.85,332.53 L612.30,334.09 L611.72,335.64 L611.11,337.19 L610.47,338.73 L609.80,340.26 L609.10,341.78 L608.37,343.30 L607.61,344.79 L606.83,346.28 L606.02,347.75 L605.19,349.21 L604.33,350.65 L603.45,352.07 L602.54,353.47 L601.61,354.85 L600.66,356.21 L599.69,357.54 L598.69,358.86 L597.68,360.15 L596.65,361.41 L595.60,362.65 L594.53,363.85 L593.45,365.03 L592.35,366.19 L591.24,367.30 L590.11,368.39 L588.97,369.45 L587.82,370.47 L586.65,371.46 L585.48,372.41 L584.30,373.33 L583.11,374.22 L581.91,375.06 L580.71,375.87 L579.50,376.64 L578.29,377.37 L577.07,378.06 L575.85,378.71 L574.63,379.32 L573.41,379.89 L572.19,380.41 L570.98,380.90 L569.76,381.34 L568.55,381.74 L567.34,382.10 L566.14,382.41 L564.94,382.68 L563.76,382.91 L562.58,383.09 L561.41,383.23 L560.25,383.32 L559.10,383.37 L557.96,383.38 L556.84,383.34 L555.73,383.25 L554.64,383.13 L553.56,382.95 L552.50,382.74 L551.45,382.48" fill="none" stroke-width="1.26"/><path d="M535.23,368.31 L532.76,367.01" stroke-width="1.10"/><path d="M536.19,322.07 L533.71,320.77" stroke-width="1.10"/><path d="M579.94,337.69 L581.87,334.88 L590.44,339.63 L600.59,354.36 L595.57,360.55 L590.92,358.74Z" fill="#fff" stroke-width="1.65"/><path d="M590.44,339.63 L600.59,354.36 L595.56,360.55 L588.33,342.70Z" fill="#fff" stroke-width="1.32"/><path d="M584.71,329.15 L585.76,325.94 L606.56,332.48 L610.74,335.06 L607.60,342.58 L603.33,340.23Z" fill="#fff" stroke-width="1.65"/><path d="M594.68,329.88 L610.74,335.06 L607.60,342.58 L593.53,333.38Z" fill="#fff" stroke-width="1.32"/><path d="M573.35,344.00 L575.78,342.13 L583.80,347.55 L586.16,368.98 L580.25,372.61 L575.13,371.17Z" fill="#fff" stroke-width="1.65"/><path d="M583.80,347.55 L586.16,368.98 L580.25,372.61 L581.14,349.58Z" fill="#fff" stroke-width="1.32"/><path d="M586.68,317.09 L610.55,311.70 L614.61,314.90 L613.98,322.27 L595.73,323.47 L586.72,320.06Z" fill="#fff" stroke-width="1.65"/><path d="M595.68,320.22 L614.61,314.90 L613.98,322.27 L595.73,323.47Z" fill="#fff" stroke-width="1.32"/><path d="M559.09,375.06 L566.25,346.81 L568.70,346.28 L576.07,352.07 L570.32,376.03 L564.68,376.38Z" fill="#fff" stroke-width="1.65"/><path d="M576.07,352.07 L570.32,376.03 L564.68,376.38 L573.39,352.65Z" fill="#fff" stroke-width="1.32"/><path d="M584.45,310.08 L607.27,294.16 L611.43,297.88 L613.43,303.63 L594.48,314.92 L585.57,312.22Z" fill="#fff" stroke-width="1.65"/><path d="M593.25,312.58 L611.43,297.88 L613.43,303.63 L594.48,314.92Z" fill="#fff" stroke-width="1.32"/><path d="M545.98,369.62 L560.04,345.59 L562.03,346.48 L568.79,352.29 L556.20,374.10 L550.35,372.71Z" fill="#fff" stroke-width="1.65"/><path d="M568.79,352.29 L556.20,374.10 L551.96,371.10 L566.62,351.31Z" fill="#fff" stroke-width="1.32"/><path d="M579.50,306.30 L597.37,283.32 L601.74,286.42 L606.06,290.37 L590.02,309.43 L581.49,307.19Z" fill="#fff" stroke-width="1.65"/><path d="M587.86,308.46 L601.82,287.37 L606.06,290.37 L590.02,309.43Z" fill="#fff" stroke-width="1.32"/><path d="M538.38,355.95 L555.96,340.56 L562.17,345.83 L563.39,348.17 L546.59,363.59 L540.45,361.88Z" fill="#fff" stroke-width="1.65"/><path d="M563.39,348.17 L546.59,363.59 L544.59,357.84 L562.17,345.83Z" fill="#fff" stroke-width="1.32"/><path d="M572.83,306.50 L582.81,281.34 L588.62,280.98 L593.34,285.10 L583.25,308.09 L580.58,308.68Z" fill="#fff" stroke-width="1.65"/><path d="M580.57,308.68 L587.70,285.44 L593.33,285.09 L583.25,308.09Z" fill="#fff" stroke-width="1.32"/><path d="M537.16,344.33 L537.81,336.74 L554.81,332.72 L560.91,337.28 L560.96,340.52 L543.41,346.57Z" fill="#fff" stroke-width="1.65"/><path d="M560.96,340.52 L543.41,346.57 L544.04,339.20 L560.91,337.28Z" fill="#fff" stroke-width="1.32"/><path d="M565.75,310.64 L566.48,288.60 L572.58,284.86 L577.77,288.86 L575.50,311.17 L572.85,313.19Z" fill="#fff" stroke-width="1.65"/><path d="M572.85,313.20 L571.85,292.49 L577.77,288.86 L575.51,311.17Z" fill="#fff" stroke-width="1.32"/><path d="M541.15,323.56 L544.38,315.81 L550.41,318.89 L563.11,327.36 L561.96,330.87 L547.27,326.41Z" fill="#fff" stroke-width="1.65"/><path d="M561.96,330.87 L547.27,326.41 L550.41,318.89 L563.11,327.36Z" fill="#fff" stroke-width="1.32"/><path d="M551.61,303.67 L556.79,297.29 L562.45,300.92 L568.32,318.04 L566.20,321.12 L559.66,317.90Z" fill="#fff" stroke-width="1.65"/><path d="M566.20,321.11 L557.43,307.11 L562.45,300.92 L568.32,318.04Z" fill="#fff" stroke-width="1.32"/><path d="M577.66,308.39 L578.52,308.93 L579.31,309.59 L580.02,310.37 L580.64,311.26 L581.17,312.25 L581.60,313.35 L581.94,314.54 L582.18,315.80 L582.32,317.14 L582.36,318.54 L582.29,319.99 L582.12,321.48 L581.84,323.00 L581.47,324.54 L581.00,326.08 L580.44,327.61 L579.79,329.12 L579.06,330.61 L578.25,332.05 L577.37,333.45 L576.42,334.78 L575.41,336.03 L574.35,337.21 L573.26,338.29 L572.12,339.27 L570.96,340.15 L569.79,340.91 L568.61,341.55 L567.43,342.07 L566.26,342.46 L565.11,342.72 L563.98,342.84 L562.90,342.83 L561.86,342.69 L560.87,342.41 L559.94,342.01 L559.08,341.47 L558.29,340.81 L557.58,340.03 L556.96,339.14 L556.43,338.15 L556.00,337.05 L555.66,335.86 L555.42,334.60 L555.28,333.26 L555.24,331.86 L555.31,330.41 L555.48,328.92 L555.76,327.40 L556.13,325.86 L556.60,324.32 L557.16,322.79 L557.81,321.28 L558.54,319.79 L559.35,318.35 L560.23,316.95 L561.18,315.62 L562.19,314.37 L563.25,313.19 L564.34,312.11 L565.48,311.13 L566.64,310.25 L567.81,309.49 L568.99,308.85 L570.17,308.33 L571.34,307.94 L572.49,307.68 L573.62,307.56 L574.70,307.57 L575.74,307.71 L576.73,307.99 L577.66,308.39Z" fill="#fff" stroke-width="1.43"/><path d="M574.21,317.39 L574.57,317.62 L574.90,317.90 L575.19,318.24 L575.45,318.63 L575.66,319.07 L575.83,319.55 L575.96,320.08 L576.05,320.64 L576.09,321.23 L576.09,321.86 L576.04,322.50 L575.95,323.17 L575.81,323.85 L575.63,324.54 L575.41,325.23 L575.15,325.92 L574.86,326.61 L574.52,327.28 L574.16,327.93 L573.76,328.57 L573.34,329.17 L572.89,329.74 L572.42,330.28 L571.94,330.78 L571.44,331.23 L570.93,331.64 L570.42,331.99 L569.91,332.29 L569.39,332.54 L568.89,332.73 L568.39,332.86 L567.91,332.93 L567.44,332.94 L567.00,332.89 L566.58,332.78 L566.19,332.61 L565.83,332.38 L565.50,332.10 L565.21,331.76 L564.95,331.37 L564.74,330.93 L564.57,330.45 L564.44,329.92 L564.35,329.36 L564.31,328.77 L564.31,328.14 L564.36,327.50 L564.45,326.83 L564.59,326.15 L564.77,325.46 L564.99,324.77 L565.25,324.08 L565.54,323.39 L565.88,322.72 L566.24,322.07 L566.64,321.43 L567.06,320.83 L567.51,320.26 L567.98,319.72 L568.46,319.22 L568.96,318.77 L569.47,318.36 L569.98,318.01 L570.49,317.71 L571.01,317.46 L571.51,317.27 L572.01,317.14 L572.49,317.07 L572.96,317.06 L573.40,317.11 L573.82,317.22 L574.21,317.39Z" fill="#fff" stroke-width="1.59"/><path d="M570.90,333.01 L570.67,333.07 L570.44,333.13 L570.21,333.17 L569.99,333.19 L569.77,333.20 L569.56,333.20 L569.35,333.18 L569.15,333.14 L568.95,333.10 L568.76,333.03 L568.58,332.96 L568.40,332.87 L568.23,332.76 L568.07,332.65 L567.91,332.51 L567.77,332.37 L567.63,332.21 L567.50,332.04 L567.38,331.86 L567.28,331.67 L567.18,331.46 L567.09,331.25 L567.01,331.02 L566.94,330.79 L566.88,330.54 L566.83,330.28 L566.79,330.02 L566.77,329.75 L566.75,329.47 L566.74,329.18 L566.75,328.89 L566.77,328.59 L566.79,328.29 L566.83,327.98 L566.88,327.67 L566.94,327.35 L567.00,327.03 L567.08,326.71 L567.17,326.39 L567.27,326.07 L567.38,325.74 L567.50,325.42 L567.62,325.10 L567.76,324.78 L567.91,324.46 L568.06,324.15 L568.22,323.84 L568.39,323.53 L568.57,323.23 L568.75,322.94 L568.94,322.65 L569.14,322.37 L569.34,322.09 L569.55,321.82 L569.76,321.56 L569.98,321.31 L570.20,321.07 L570.43,320.84 L570.66,320.62 L570.89,320.41 L571.13,320.21 L571.36,320.03 L571.60,319.85 L571.84,319.69 L572.08,319.54 L572.32,319.40 L572.56,319.28 L572.80,319.17 L573.04,319.08 L573.27,318.99 L573.50,318.92 L573.73,318.87" fill="none" stroke-width="1.10"/></g>
<g id="p4_16_19"><ellipse cx="628.00" cy="358.80" rx="15.80" ry="10.60" transform="rotate(-64.00 628.00 358.80)" fill="#fff" stroke-width="1.43"/><ellipse cx="629.00" cy="359.30" rx="14.60" ry="9.60" transform="rotate(-64.00 629.00 359.30)" fill="#fff" stroke-width="1.21"/><ellipse cx="629.40" cy="359.50" rx="11.00" ry="6.60" transform="rotate(-64.00 629.40 359.50)" fill="none" stroke-width="2.86" stroke-dasharray="2.6 2.4" stroke-linecap="butt"/><ellipse cx="629.40" cy="359.50" rx="11.00" ry="6.60" transform="rotate(-64.00 629.40 359.50)" fill="none" stroke="#fff" stroke-width="1.10" stroke-dasharray="2.6 2.4" stroke-linecap="butt"/><ellipse cx="629.80" cy="359.70" rx="7.20" ry="3.80" transform="rotate(-64.00 629.80 359.70)" fill="#fff" stroke-width="1.32"/><ellipse cx="630.20" cy="359.90" rx="4.60" ry="2.00" transform="rotate(-64.00 630.20 359.90)" fill="#fff" stroke-width="1.10"/><ellipse cx="658.60" cy="373.70" rx="13.30" ry="9.00" transform="rotate(-62.00 658.60 373.70)" fill="#fff" stroke-width="1.59"/><ellipse cx="659.90" cy="374.40" rx="12.60" ry="8.40" transform="rotate(-62.00 659.90 374.40)" fill="#fff" stroke-width="1.54"/><ellipse cx="660.50" cy="374.80" rx="7.60" ry="4.20" transform="rotate(-62.00 660.50 374.80)" fill="#fff" stroke-width="1.59"/><path d="M658.30,373.60 L658.70,372.90 L659.15,372.23 L659.63,371.60 L660.13,371.03 L660.65,370.52 L661.18,370.09 L661.71,369.73 L662.24,369.45 L662.75,369.27 L663.24,369.17 L663.70,369.17 L664.13,369.26 L664.51,369.43 L664.84,369.70 L665.11,370.05 L665.33,370.48 L665.49,370.98 L665.59,371.55 L665.61,372.17 L665.58,372.84 L665.47,373.54 L665.31,374.27 L665.08,375.01 L664.79,375.76" fill="none" stroke-width="1.21"/><path d="M687.5,380.4 L679.3,386.6 L677.6,393.6 L683.4,398.8 L690.0,399.4 L696.6,393.0 L697.2,386.2 L693.0,382.6 Z" fill="#fff" stroke-width="1.54"/><ellipse cx="690.60" cy="391.80" rx="8.20" ry="5.80" transform="rotate(-62.00 690.60 391.80)" fill="#fff" stroke-width="1.49"/><ellipse cx="690.90" cy="392.00" rx="4.60" ry="2.90" transform="rotate(-62.00 690.90 392.00)" fill="#fff" stroke-width="1.65"/><ellipse cx="691.10" cy="392.10" rx="2.40" ry="1.20" transform="rotate(-62.00 691.10 392.10)" fill="none" stroke-width="1.10" stroke-dasharray="1 1"/><path d="M679.3,386.6 L684.8,388.8 M683.4,398.8 L685.8,396.6 M687.5,380.4 L691.4,385.2 M677.9,392.6 L683.0,394.0" fill="none" stroke-width="1.21"/></g>
<g id="p11"><path d="M567.22,100.67 L565.26,100.79 L563.35,100.75 L561.50,100.56 L559.72,100.22 L558.01,99.72 L556.37,99.08 L554.82,98.28 L553.36,97.34 L551.99,96.26 L550.72,95.05 L549.56,93.69 L548.50,92.22 L547.56,90.61 L546.73,88.90 L546.03,87.07 L545.44,85.14 L544.98,83.11 L544.64,80.99 L544.43,78.79 L544.34,76.51 L544.39,74.18 L544.56,71.78 L544.85,69.34 L545.28,66.85 L545.82,64.34 L546.49,61.81 L547.28,59.27 L548.19,56.72 L549.21,54.18 L550.34,51.66 L551.57,49.16 L552.91,46.70 L554.34,44.28 L555.86,41.92 L557.47,39.61 L559.16,37.38 L560.92,35.22 L562.75,33.15 L564.64,31.18 L566.58,29.30 L568.57,27.53 L570.59,25.88 L572.65,24.35 L574.73,22.94 L576.83,21.66 L578.94,20.52 L581.05,19.52 L583.15,18.66 L585.24,17.95 L587.30,17.38 L589.34,16.97 L591.34,16.71 L593.29,16.61 L595.19,16.66 L597.04,16.86 L598.81,17.22 L600.52,17.72 L602.15,18.38 L603.69,19.19 L605.15,20.14" fill="none" stroke-width="0.00" stroke="none"/><path d="M568.69,98.81 L567.69,105.49 Q566.53,106.87 565.20,105.66 L563.30,99.18 Z" fill="#fff" stroke-width="1.43"/><path d="M562.77,99.18 L559.60,105.14 Q558.04,106.06 557.19,104.47 L557.56,97.72 Z" fill="#fff" stroke-width="1.43"/><path d="M557.03,97.46 L551.68,101.59 Q549.89,101.78 549.76,99.99 L552.89,93.99 Z" fill="#fff" stroke-width="1.43"/><path d="M552.57,93.53 L546.07,95.37 Q544.33,94.88 544.89,93.17 L550.02,88.77 Z" fill="#fff" stroke-width="1.43"/><path d="M549.88,88.25 L543.13,88.25 Q541.59,87.31 542.59,85.81 L548.72,82.98 Z" fill="#fff" stroke-width="1.43"/><path d="M548.69,82.41 L542.06,81.11 Q540.73,79.89 542.00,78.61 L548.57,77.01 Z" fill="#fff" stroke-width="1.43"/><path d="M548.61,76.48 L542.23,74.25 Q541.09,72.86 542.53,71.77 L549.26,71.12 Z" fill="#fff" stroke-width="1.43"/><path d="M549.36,70.61 L543.27,67.68 Q542.29,66.17 543.84,65.25 L550.60,65.36 Z" fill="#fff" stroke-width="1.43"/><path d="M550.74,64.88 L544.96,61.39 Q544.13,59.79 545.76,59.03 L552.47,59.77 Z" fill="#fff" stroke-width="1.43"/><path d="M552.66,59.30 L547.19,55.34 Q546.49,53.67 548.18,53.05 L554.81,54.35 Z" fill="#fff" stroke-width="1.43"/><path d="M555.03,53.90 L549.88,49.52 Q549.32,47.81 551.05,47.32 L557.56,49.12 Z" fill="#fff" stroke-width="1.43"/><path d="M557.81,48.69 L553.00,43.95 Q552.56,42.20 554.33,41.83 L560.69,44.12 Z" fill="#fff" stroke-width="1.43"/><path d="M560.97,43.70 L556.52,38.62 Q556.21,36.84 558.00,36.61 L564.17,39.36 Z" fill="#fff" stroke-width="1.43"/><path d="M564.49,38.95 L560.44,33.54 Q560.28,31.75 562.08,31.65 L568.02,34.86 Z" fill="#fff" stroke-width="1.43"/><path d="M568.38,34.48 L564.79,28.75 Q564.77,26.95 566.58,27.00 L572.23,30.70 Z" fill="#fff" stroke-width="1.43"/><path d="M572.62,30.34 L569.58,24.31 Q569.73,22.51 571.52,22.73 L576.81,26.94 Z" fill="#fff" stroke-width="1.43"/><path d="M577.20,26.64 L574.84,20.31 Q575.19,18.54 576.94,18.95 L581.74,23.71 Z" fill="#fff" stroke-width="1.43"/><path d="M582.19,23.45 L580.72,16.85 Q581.31,15.14 582.99,15.80 L587.09,21.17 Z" fill="#fff" stroke-width="1.43"/><path d="M587.56,20.97 L587.34,14.22 Q588.23,12.65 589.76,13.60 L592.80,19.64 Z" fill="#fff" stroke-width="1.43"/><path d="M593.30,19.53 L594.84,12.95 Q596.11,11.66 597.34,12.98 L598.70,19.60 Z" fill="#fff" stroke-width="1.43"/><path d="M599.27,19.66 L603.09,14.09 Q604.74,13.35 605.41,15.02 L604.28,21.69 Z" fill="#fff" stroke-width="1.43"/><path d="M567.92,98.77 L566.19,98.98 L564.50,99.04 L562.87,98.95 L561.31,98.72 L559.81,98.35 L558.39,97.83 L557.05,97.17 L555.79,96.37 L554.62,95.44 L553.55,94.37 L552.58,93.18 L551.70,91.86 L550.93,90.43 L550.27,88.87 L549.71,87.22 L549.27,85.45 L548.94,83.60 L548.73,81.65 L548.63,79.62 L548.64,77.52 L548.77,75.35 L549.02,73.13 L549.38,70.85 L549.85,68.53 L550.44,66.17 L551.13,63.79 L551.93,61.40 L552.83,59.00 L553.84,56.59 L554.94,54.20 L556.13,51.83 L557.41,49.48 L558.77,47.17 L560.22,44.90 L561.73,42.69 L563.31,40.54 L564.96,38.45 L566.66,36.45 L568.41,34.52 L570.20,32.69 L572.03,30.95 L573.89,29.32 L575.77,27.80 L577.67,26.39 L579.58,25.11 L581.49,23.94 L583.40,22.91 L585.29,22.01 L587.17,21.25 L589.02,20.63 L590.83,20.15 L592.61,19.81 L594.35,19.61 L596.03,19.56 L597.65,19.66 L599.21,19.90 L600.70,20.29 L602.12,20.82 L603.45,21.49 L604.70,22.29 L607.21,16.08 L594.60,45.00 Q591.60,51.00 595.30,58.00 L590.00,74.00 Q580.00,78.00 575.60,87.00 L569.60,103.60 L565.95,104.66 Z" fill="#fff" stroke-width="1.49"/><path d="M574.34,94.02 L572.92,94.16 L571.54,94.18 L570.20,94.08 L568.91,93.86 L567.67,93.52 L566.48,93.06 L565.36,92.49 L564.31,91.80 L563.32,91.00 L562.41,90.09 L561.57,89.08 L560.81,87.97 L560.13,86.76 L559.54,85.46 L559.03,84.06 L558.62,82.59 L558.29,81.04 L558.05,79.41 L557.91,77.72 L557.85,75.97 L557.89,74.16 L558.03,72.31 L558.25,70.42 L558.57,68.49 L558.97,66.53 L559.47,64.56 L560.05,62.57 L560.71,60.58 L561.46,58.59 L562.29,56.61 L563.19,54.65 L564.17,52.71 L565.22,50.80 L566.33,48.92 L567.50,47.09 L568.74,45.31 L570.02,43.59 L571.36,41.94 L572.73,40.35 L574.15,38.83 L575.60,37.40 L577.08,36.06 L578.58,34.80 L580.10,33.64 L581.63,32.58 L583.16,31.62 L584.70,30.77 L586.23,30.03 L587.76,29.40 L589.26,28.89 L590.75,28.49 L592.21,28.21 L593.63,28.06 L595.02,28.02 L596.37,28.10 L597.67,28.30 L598.92,28.62 L600.12,29.05 L601.25,29.61 L602.31,30.27" fill="none" stroke-width="1.38"/><path d="M602.31,30.27 L593.40,46.60" stroke-width="1.21"/><path d="M576.18,93.89 L566.60,103.60" stroke-width="1.21"/><ellipse cx="588.60" cy="36.20" rx="6.00" ry="3.00" transform="rotate(-60.00 588.60 36.20)" fill="#fff" stroke-width="1.49"/><path d="M588.00,35.80 L588.29,35.32 L588.60,34.86 L588.92,34.43 L589.25,34.04 L589.58,33.69 L589.90,33.39 L590.21,33.14 L590.51,32.95 L590.79,32.82 L591.04,32.76 L591.26,32.76 L591.45,32.83 L591.60,32.96 L591.71,33.15 L591.78,33.40 L591.81,33.70 L591.80,34.05 L591.74,34.45 L591.64,34.88 L591.50,35.34 L591.32,35.82 L591.11,36.31 L590.87,36.81 L590.60,37.30" fill="none" stroke-width="0.99"/><ellipse cx="570.20" cy="52.00" rx="6.00" ry="3.00" transform="rotate(-60.00 570.20 52.00)" fill="#fff" stroke-width="1.49"/><path d="M569.60,51.60 L569.89,51.12 L570.20,50.66 L570.52,50.23 L570.85,49.84 L571.18,49.49 L571.50,49.19 L571.81,48.94 L572.11,48.75 L572.39,48.62 L572.64,48.56 L572.86,48.56 L573.05,48.63 L573.20,48.76 L573.31,48.95 L573.38,49.20 L573.41,49.50 L573.40,49.85 L573.34,50.25 L573.24,50.68 L573.10,51.14 L572.92,51.62 L572.71,52.11 L572.47,52.61 L572.20,53.10" fill="none" stroke-width="0.99"/><ellipse cx="565.20" cy="79.60" rx="6.00" ry="3.00" transform="rotate(-60.00 565.20 79.60)" fill="#fff" stroke-width="1.49"/><path d="M564.60,79.20 L564.89,78.72 L565.20,78.26 L565.52,77.83 L565.85,77.44 L566.18,77.09 L566.50,76.79 L566.81,76.54 L567.11,76.35 L567.39,76.22 L567.64,76.16 L567.86,76.16 L568.05,76.23 L568.20,76.36 L568.31,76.55 L568.38,76.80 L568.41,77.10 L568.40,77.45 L568.34,77.85 L568.24,78.28 L568.10,78.74 L567.92,79.22 L567.71,79.71 L567.47,80.21 L567.20,80.70" fill="none" stroke-width="0.99"/><ellipse cx="581.93" cy="61.65" rx="8.90" ry="3.30" transform="rotate(-60.10 581.93 61.65)" fill="#fff" stroke-width="1.49"/><path d="M586.34,55.99 L586.06,55.88 L585.74,55.83 L585.39,55.85 L585.01,55.94 L584.61,56.09 L584.19,56.32 L583.75,56.61 L583.30,56.95 L582.85,57.36 L582.39,57.82 L581.94,58.32 L581.50,58.87 L581.08,59.45 L580.67,60.07 L580.29,60.70 L579.93,61.35 L579.61,62.01 L579.32,62.67 L579.06,63.33 L578.85,63.97 L578.69,64.60 L578.56,65.19 L578.49,65.75 L578.46,66.28 L578.48,66.76 L578.54,67.18 L578.66,67.55 L578.82,67.87 L579.02,68.12 L579.26,68.30 L603.10,82.01 L610.18,69.70 Z" fill="#fff" stroke-width="1.49"/><path d="M579.26,68.30 L578.96,68.06 L578.73,67.72 L578.57,67.28 L578.48,66.76 L578.46,66.15 L578.52,65.48 L578.65,64.75 L578.85,63.97 L579.12,63.17 L579.46,62.34 L579.85,61.52 L580.29,60.70 L580.77,59.91 L581.29,59.16 L581.83,58.46 L582.39,57.82 L582.96,57.25 L583.53,56.77 L584.08,56.38 L584.61,56.09 L585.11,55.91 L585.57,55.83 L585.98,55.86 L586.34,55.99" fill="none" stroke-width="1.21"/><path d="M599.29,79.82 L598.99,79.58 L598.76,79.23 L598.59,78.80 L598.50,78.27 L598.49,77.67 L598.55,76.99 L598.68,76.26 L598.88,75.49 L599.15,74.68 L599.48,73.86 L599.87,73.03 L600.31,72.22 L600.80,71.43 L601.31,70.67 L601.86,69.97 L602.42,69.33 L602.99,68.77 L603.55,68.29 L604.10,67.90 L604.63,67.61 L605.13,67.42 L605.59,67.34 L606.01,67.37 L606.36,67.51" fill="none" stroke-width="1.21"/><path d="M601.89,81.31 L601.59,81.07 L601.36,80.73 L601.19,80.29 L601.10,79.77 L601.09,79.16 L601.15,78.49 L601.28,77.76 L601.48,76.98 L601.75,76.18 L602.08,75.35 L602.47,74.53 L602.91,73.71 L603.40,72.92 L603.91,72.17 L604.46,71.47 L605.02,70.83 L605.59,70.26 L606.15,69.78 L606.70,69.40 L607.23,69.11 L607.73,68.92 L608.19,68.84 L608.61,68.87 L608.97,69.00" fill="none" stroke-width="1.21"/><path d="M611.68,70.10 L611.38,69.98 L611.04,69.92 L610.67,69.94 L610.26,70.04 L609.83,70.20 L609.39,70.44 L608.92,70.74 L608.44,71.10 L607.96,71.53 L607.48,72.01 L607.01,72.55 L606.54,73.13 L606.09,73.74 L605.66,74.39 L605.25,75.06 L604.88,75.75 L604.53,76.44 L604.23,77.14 L603.96,77.84 L603.74,78.52 L603.57,79.18 L603.44,79.81 L603.36,80.40 L603.34,80.96 L603.36,81.46 L603.43,81.91 L603.55,82.31 L603.72,82.64 L603.94,82.91 L604.20,83.11 L613.30,88.34 L620.78,75.34 Z" fill="#fff" stroke-width="1.49"/><path d="M604.20,83.11 L603.88,82.85 L603.63,82.48 L603.46,82.02 L603.36,81.46 L603.34,80.82 L603.40,80.11 L603.53,79.34 L603.74,78.52 L604.03,77.66 L604.38,76.79 L604.79,75.92 L605.25,75.06 L605.76,74.22 L606.31,73.43 L606.89,72.69 L607.48,72.01 L608.08,71.42 L608.68,70.91 L609.27,70.50 L609.83,70.20 L610.37,70.01 L610.86,69.92 L611.30,69.96 L611.68,70.10" fill="none" stroke-width="1.21"/><path d="M613.30,88.34 L612.99,88.08 L612.74,87.72 L612.56,87.25 L612.46,86.70 L612.44,86.06 L612.50,85.34 L612.63,84.57 L612.85,83.75 L613.13,82.90 L613.48,82.03 L613.89,81.15 L614.36,80.29 L614.87,79.46 L615.41,78.66 L615.99,77.92 L616.58,77.25 L617.19,76.65 L617.79,76.15 L618.37,75.74 L618.94,75.43 L619.47,75.24 L619.96,75.16 L620.40,75.19 L620.78,75.34" fill="none" stroke-width="1.21"/><path d="M620.13,76.46 L619.87,76.35 L619.58,76.30 L619.26,76.31 L618.91,76.38 L618.55,76.51 L618.17,76.70 L617.77,76.94 L617.37,77.24 L616.97,77.59 L616.56,77.99 L616.16,78.42 L615.77,78.90 L615.40,79.40 L615.04,79.94 L614.70,80.49 L614.39,81.06 L614.11,81.64 L613.86,82.22 L613.65,82.79 L613.47,83.36 L613.33,83.91 L613.24,84.43 L613.18,84.93 L613.17,85.40 L613.20,85.82 L613.27,86.20 L613.38,86.53 L613.53,86.82 L613.72,87.04 L613.95,87.21 L618.29,89.71 L624.47,78.96 Z" fill="#fff" stroke-width="1.21"/><path d="M624.85,78.49 L624.50,78.32 L624.11,78.23 L623.70,78.20 L623.26,78.24 L622.80,78.35 L622.32,78.53 L621.84,78.77 L621.35,79.07 L620.86,79.42 L620.38,79.84 L619.91,80.30 L619.46,80.80 L619.03,81.35 L618.63,81.93 L618.26,82.54 L617.92,83.16 L617.62,83.80 L617.37,84.45 L617.16,85.09 L616.99,85.73 L616.88,86.35 L616.81,86.95 L616.80,87.53 L616.84,88.07 L616.92,88.56 L617.06,89.02 L617.25,89.42 L617.48,89.76 L617.76,90.05 L618.07,90.28 L628.91,96.51 L635.69,84.72 Z" fill="#fff" stroke-width="1.54"/><ellipse cx="632.30" cy="90.61" rx="6.80" ry="3.70" transform="rotate(-60.10 632.30 90.61)" fill="#fff" stroke-width="1.54" /><ellipse cx="632.56" cy="90.76" rx="2.70" ry="1.80" transform="rotate(-60.10 632.56 90.76)" fill="#333" stroke-width="1.32"/><path d="M618.11,90.41 L617.76,90.14 L617.47,89.77 L617.24,89.31 L617.10,88.76 L617.03,88.14 L617.03,87.46 L617.12,86.73 L617.28,85.95 L617.51,85.15 L617.81,84.34 L618.18,83.53 L618.60,82.74 L619.08,81.97 L619.59,81.24 L620.14,80.58 L620.72,79.97 L621.31,79.44 L621.90,79.00 L622.49,78.65 L623.06,78.40 L623.60,78.26 L624.11,78.21 L624.58,78.28 L624.99,78.45" fill="none" stroke-width="1.21"/><path d="M613.13,72.15 L621.11,76.74 M612.90,74.48 L620.87,79.06 M612.20,76.55 L620.18,81.13 M611.25,78.47 L619.23,83.05 M610.08,80.26 L618.06,84.84 M608.65,81.90 L616.63,86.49 M606.78,83.29 L614.76,87.88 M626.58,80.48 L635.77,85.76 M626.53,82.72 L635.72,88.00 M625.97,84.66 L635.16,89.95 M625.12,86.44 L634.31,91.73 M624.02,88.08 L633.21,93.36 M622.63,89.55 L631.82,94.83 M620.75,90.73 L629.93,96.02" stroke-width="1.10"/></g>
<g id="p13_14"><ellipse cx="649.80" cy="101.80" rx="17.30" ry="12.40" transform="rotate(-61.50 649.80 101.80)" fill="#fff" stroke-width="1.43"/><ellipse cx="650.70" cy="102.30" rx="16.20" ry="11.40" transform="rotate(-61.50 650.70 102.30)" fill="#fff" stroke-width="1.10"/><ellipse cx="650.60" cy="102.70" rx="11.40" ry="7.50" transform="rotate(-61.50 650.60 102.70)" fill="#fff" stroke-width="1.43"/><path d="M646.14,99.21 L646.81,98.21 L647.54,97.28 L648.32,96.43 L649.14,95.66 L650.00,95.00 L650.87,94.44 L651.75,94.01 L652.62,93.69 L653.48,93.51 L654.31,93.45 L655.10,93.52 L655.85,93.72 L656.53,94.05 L657.14,94.51 L657.67,95.07 L658.12,95.75 L658.48,96.53 L658.74,97.39 L658.90,98.33 L658.97,99.34 L658.93,100.40 L658.78,101.49 L658.54,102.61 L658.20,103.73" fill="none" stroke-width="1.10"/><path d="M691.8,101.4 L697.6,86.6 Q699.8,80.6 703.0,80.9 Q706.0,81.8 705.2,86.6" fill="none" stroke="#141414" stroke-width="2.75"/><path d="M691.8,101.4 L697.6,86.6 Q699.8,80.6 703.0,80.9 Q706.0,81.8 705.2,86.6" fill="none" stroke="#fff" stroke-width="0.88"/><path d="M663.14,128.85 L662.76,127.32 L662.54,125.67 L662.47,123.93 L662.56,122.12 L662.80,120.25 L663.20,118.34 L663.75,116.41 L664.44,114.49 L665.27,112.58 L666.22,110.72 L667.29,108.92 L668.47,107.20 L669.75,105.58 L671.10,104.07 L672.52,102.69 L674.00,101.45 L675.51,100.37 L677.04,99.46 L678.58,98.73 L680.11,98.18 L681.62,97.82 L683.08,97.66 L684.48,97.69 L685.82,97.92" fill="none" stroke-width="1.21"/><path d="M665.72,132.07 L664.98,130.54 L664.43,128.82 L664.09,126.96 L663.95,124.96 L664.02,122.86 L664.30,120.69 L664.78,118.47 L665.47,116.24 L666.34,114.03 L667.38,111.86 L668.59,109.76 L669.95,107.77 L671.43,105.91 L673.02,104.21 L674.70,102.68 L676.44,101.35 L678.22,100.24 L680.02,99.36 L681.81,98.72 L683.56,98.34 L685.26,98.22 L686.88,98.35 L688.40,98.74 L689.80,99.39" fill="none" stroke-width="1.21"/><ellipse cx="681.80" cy="118.60" rx="20.60" ry="13.40" transform="rotate(-60.00 681.80 118.60)" fill="#fff" stroke-width="1.49"/><ellipse cx="683.60" cy="119.70" rx="15.60" ry="9.60" transform="rotate(-60.00 683.60 119.70)" fill="#fff" stroke-width="1.43"/><ellipse cx="685.00" cy="120.70" rx="10.80" ry="6.20" transform="rotate(-60.00 685.00 120.70)" fill="#fff" stroke-width="1.43"/><ellipse cx="686.00" cy="121.40" rx="6.20" ry="3.00" transform="rotate(-60.00 686.00 121.40)" fill="#fff" stroke-width="1.32"/></g>
<g id="p12_17_18"><path d="M716.84,126.65 L716.17,126.34 L715.45,126.14 L714.69,126.05 L713.89,126.07 L713.07,126.20 L712.22,126.45 L711.37,126.79 L710.52,127.25 L709.68,127.80 L708.85,128.44 L708.06,129.17 L707.30,129.97 L706.58,130.85 L705.92,131.78 L705.32,132.76 L704.78,133.78 L704.32,134.82 L703.94,135.88 L703.64,136.95 L703.42,138.00 L703.29,139.04 L703.25,140.05 L703.30,141.01 L703.43,141.92 L703.66,142.77 L703.97,143.55 L704.36,144.24 L704.83,144.85 L705.37,145.37 L705.97,145.78 L722.67,155.26 L733.53,136.14 Z" fill="#fff" stroke-width="1.54"/><ellipse cx="728.10" cy="145.70" rx="11.00" ry="7.00" transform="rotate(-60.40 728.10 145.70)" fill="#fff" stroke-width="1.54" /><ellipse cx="728.40" cy="145.90" rx="8.70" ry="5.20" transform="rotate(-60.40 728.40 145.90)" fill="#fff" stroke-width="1.43"/><path d="M724.95,143.93 L725.47,143.08 L726.04,142.29 L726.66,141.55 L727.31,140.90 L727.99,140.33 L728.67,139.86 L729.36,139.49 L730.03,139.24 L730.67,139.10 L731.28,139.08 L731.85,139.18 L732.35,139.39 L732.80,139.72 L733.17,140.15 L733.47,140.69 L733.68,141.31 L733.80,142.02 L733.84,142.79 L733.78,143.62 L733.64,144.49 L733.41,145.39 L733.10,146.29 L732.71,147.19 L732.25,148.07" fill="none" stroke-width="1.10"/><ellipse cx="745.40" cy="155.60" rx="11.80" ry="9.40" transform="rotate(-60.00 745.40 155.60)" fill="#fff" stroke-width="1.43"/><ellipse cx="746.20" cy="156.00" rx="10.80" ry="8.50" transform="rotate(-60.00 746.20 156.00)" fill="#fff" stroke-width="1.10"/><ellipse cx="746.40" cy="156.20" rx="6.80" ry="4.60" transform="rotate(-60.00 746.40 156.20)" fill="#fff" stroke-width="1.65"/><ellipse cx="761.60" cy="167.00" rx="9.60" ry="8.00" transform="rotate(-60.00 761.60 167.00)" fill="#fff" stroke-width="1.49"/><ellipse cx="762.00" cy="167.20" rx="6.80" ry="5.20" transform="rotate(-60.00 762.00 167.20)" fill="#fff" stroke-width="1.54"/><ellipse cx="762.20" cy="167.40" rx="4.60" ry="3.20" transform="rotate(-60.00 762.20 167.40)" fill="#fff" stroke-width="1.21"/><path d="M760.6,172.2 L763.4,176.4" fill="none" stroke="#fff" stroke-width="2.42"/><path d="M766.8,162.2 L764.6,165.4 M767.6,166.6 L765.0,166.2" fill="none" stroke-width="1.32"/></g>
<g stroke="none" fill="#050505"><polygon points="84.0,358.3 89.0,346.2 91.6,349.2 109.3,342.7 112.5,352.9 97.0,359.6 98.2,363.9 95.4,363.9"/><text transform="translate(113.2 352.4) rotate(-20.5)" font-family="'Liberation Sans', Arial, sans-serif" font-weight="bold" font-size="14.6" stroke="#050505" stroke-width="1.21" letter-spacing="-0.2">FR.</text></g>

</g>
<defs><pattern id="ht" width="3.5" height="3.5" patternUnits="userSpaceOnUse"><rect width="3.5" height="3.5" fill="#fff"/><circle cx="0.9" cy="0.9" r="0.66" fill="#3a3a3a"/><circle cx="2.65" cy="2.65" r="0.66" fill="#3a3a3a"/></pattern></defs><g style="mix-blend-mode:multiply" fill="url(#ht)" stroke="none"><polygon points="400,268 410,262.5 440,251 470,239 500,226.6 530,212 541.9,206.6 553.8,201.2 565.7,195.6 577.6,190 589.5,184.5 601.4,179.5 599,191.4 594.3,201 587.1,209.3 577.6,214 565.7,218.8 553.8,223.6 541.9,227.1 530,231 500,241.8 470,252.6 440,264 411,273.6"/><polygon points="413,276.5 440,267.5 470,256.5 500,245.5 530,234.5 541.9,230.7 553.8,227.1 565.7,222.4 577.6,217.6 587.1,215.2 584.8,223.6 577.6,231.9 565.7,239 553.8,243.8 541.9,248.6 530,252 500,261 470,270.5 440,280 421,286.5"/><polygon points="423,289.5 440,284 470,274.5 500,265 530,256 545,251.5 560,247 573,246 571,256 562,266 545,272 530,276 500,284.5 470,292.5 440,299.5 429,302"/><polygon points="431,305 440,303.5 470,296.5 500,288.5 530,280 545,276 558,275 555,290 545,299 530,304 500,312 470,316 436,318"/><polygon points="400,268 405,283 418.6,302 428,315.5 436,318 431,305 423,289.5 413,276.5 411,273.6"/><text x="400.8" y="345.2" font-family="'Liberation Serif', 'DejaVu Serif', serif" font-weight="bold" font-size="36" textLength="197" lengthAdjust="spacingAndGlyphs" stroke="url(#ht)" stroke-width="0.8" stroke-linejoin="miter">HONDA</text></g>
<g stroke="#1e1e1e" stroke-width="1.25" fill="none"><line x1="93.8" y1="114.5" x2="108" y2="114.5"/><line x1="107.8" y1="58.5" x2="107.8" y2="169.5"/><line x1="107.8" y1="58.5" x2="198" y2="58.5"/><line x1="107.8" y1="147.5" x2="143" y2="147.5"/><line x1="107.8" y1="169.5" x2="183" y2="169.5"/><line x1="147.8" y1="111.5" x2="166" y2="111.5"/><line x1="271.6" y1="62.6" x2="271.6" y2="83"/><line x1="339.4" y1="32.4" x2="339.4" y2="42.5"/><line x1="403" y1="67.6" x2="403" y2="80.6"/><line x1="443.8" y1="73.6" x2="443.8" y2="86.6"/><line x1="343" y1="128.0" x2="343" y2="143"/><line x1="418.6" y1="201.4" x2="418.6" y2="221"/><line x1="491.7" y1="202.6" x2="491.7" y2="220"/><line x1="573.7" y1="258.2" x2="573.7" y2="273"/><line x1="628.3" y1="328.6" x2="628.3" y2="343"/><line x1="659.6" y1="347.4" x2="659.6" y2="360"/><line x1="687.4" y1="366.2" x2="687.4" y2="378.5"/><line x1="611" y1="85" x2="611" y2="109.6"/><line x1="650.5" y1="117.5" x2="650.5" y2="133.4"/><line x1="683.8" y1="137.5" x2="683.8" y2="152.4"/><line x1="744.9" y1="133.2" x2="744.9" y2="146"/><line x1="719.4" y1="153" x2="719.4" y2="171"/><line x1="760.9" y1="174" x2="760.9" y2="190.6"/></g><g font-family="'DejaVu Sans', 'Liberation Sans', Verdana, sans-serif" font-size="9.2" fill="#fff" stroke="#fff" stroke-width="0.15"><rect x="75.2" y="104.2" width="18.60" height="18.60" fill="#111"/><rect x="76.20" y="106.40" width="13.40" height="14.60" fill="#777"/><rect x="90.20" y="105.20" width="2.6" height="15.80" fill="#777"/><text x="83.60" y="117.00" text-anchor="middle">1</text><rect x="129.2" y="100.2" width="18.60" height="19.40" fill="#111"/><rect x="130.20" y="101.20" width="16.60" height="16.60" fill="#777"/><text x="138.50" y="112.80" text-anchor="middle">8</text><rect x="263" y="41.9" width="19" height="6" fill="#111"/><rect x="264" y="43.0" width="17" height="2.2" fill="#777"/><rect x="261.9" y="45.0" width="21.00" height="16.80" fill="#111"/><rect x="263.00" y="46.20" width="18.80" height="14.40" fill="#777"/><text x="272.40" y="56.70" text-anchor="middle">7</text><rect x="330.1" y="11.1" width="18.80" height="20.90" fill="#111"/><rect x="331.10" y="12.10" width="16.80" height="18.70" fill="#777"/><text x="339.50" y="24.75" text-anchor="middle">10</text><rect x="393.0" y="47.0" width="19.00" height="18.80" fill="#111"/><rect x="395.00" y="49.00" width="15.40" height="15.20" fill="#777"/><text x="402.70" y="59.90" text-anchor="middle">15</text><rect x="434.0" y="53.0" width="18.80" height="18.80" fill="#111"/><rect x="435.00" y="55.00" width="16.80" height="15.80" fill="#777"/><text x="443.40" y="66.20" text-anchor="middle">9</text><rect x="333.0" y="108.0" width="19.00" height="18.80" fill="#111"/><rect x="335.00" y="109.00" width="16.00" height="15.80" fill="#777"/><text x="343.00" y="120.20" text-anchor="middle">5</text><rect x="409.1" y="181.1" width="19.80" height="18.80" fill="#111"/><rect x="410.10" y="182.90" width="17.60" height="15.40" fill="#777"/><text x="418.90" y="193.90" text-anchor="middle">3</text><rect x="482.0" y="181.9" width="19.90" height="19.00" fill="#111"/><rect x="483.00" y="182.90" width="17.90" height="16.10" fill="#777"/><text x="491.95" y="194.25" text-anchor="middle">2</text><rect x="563.0" y="237.1" width="18.90" height="20.50" fill="#111"/><rect x="564.00" y="238.10" width="16.90" height="18.50" fill="#777"/><text x="572.45" y="250.65" text-anchor="middle">6</text><rect x="619.0" y="308.1" width="18.90" height="18.80" fill="#111"/><rect x="620.00" y="309.10" width="16.10" height="16.80" fill="#777"/><text x="628.05" y="320.80" text-anchor="middle">4</text><rect x="649.3" y="326.0" width="18.90" height="19.60" fill="#111"/><rect x="650.90" y="328.20" width="16.30" height="16.20" fill="#777"/><text x="659.05" y="339.60" text-anchor="middle">16</text><rect x="677.1" y="345.2" width="19.70" height="19.80" fill="#111"/><rect x="678.10" y="346.20" width="17.70" height="17.70" fill="#777"/><text x="686.95" y="358.35" text-anchor="middle">19</text><rect x="603.0" y="111.3" width="20.20" height="19.50" fill="#111"/><rect x="604.00" y="112.70" width="18.20" height="17.10" fill="#777"/><text x="613.10" y="124.55" text-anchor="middle">11</text><rect x="640.2" y="134.2" width="19.60" height="18.60" fill="#111"/><rect x="641.20" y="135.20" width="17.60" height="16.60" fill="#777"/><text x="650.00" y="146.80" text-anchor="middle">13</text><rect x="674.0" y="153.3" width="19.00" height="18.40" fill="#111"/><rect x="675.80" y="155.10" width="15.60" height="15.00" fill="#777"/><text x="683.60" y="165.90" text-anchor="middle">14</text><rect x="735.4" y="112.3" width="18.90" height="19.70" fill="#111"/><rect x="736.40" y="113.30" width="16.90" height="17.70" fill="#777"/><text x="744.85" y="125.45" text-anchor="middle">17</text><rect x="709.2" y="171.9" width="18.90" height="19.20" fill="#111"/><rect x="710.20" y="172.90" width="16.90" height="17.20" fill="#777"/><text x="718.65" y="184.80" text-anchor="middle">12</text><rect x="750.7" y="191.6" width="18.90" height="19.70" fill="#111"/><rect x="751.70" y="192.60" width="16.90" height="17.70" fill="#777"/><text x="760.15" y="204.75" text-anchor="middle">18</text></g>
<text x="756.2" y="409.7" font-family="'Liberation Sans', Arial, sans-serif" font-weight="bold" font-size="9.5" fill="#0c0c0c" stroke="#0c0c0c" stroke-width="0.25" textLength="52" lengthAdjust="spacingAndGlyphs">KZK8E1200</text>
</svg>
</body>
</html>
